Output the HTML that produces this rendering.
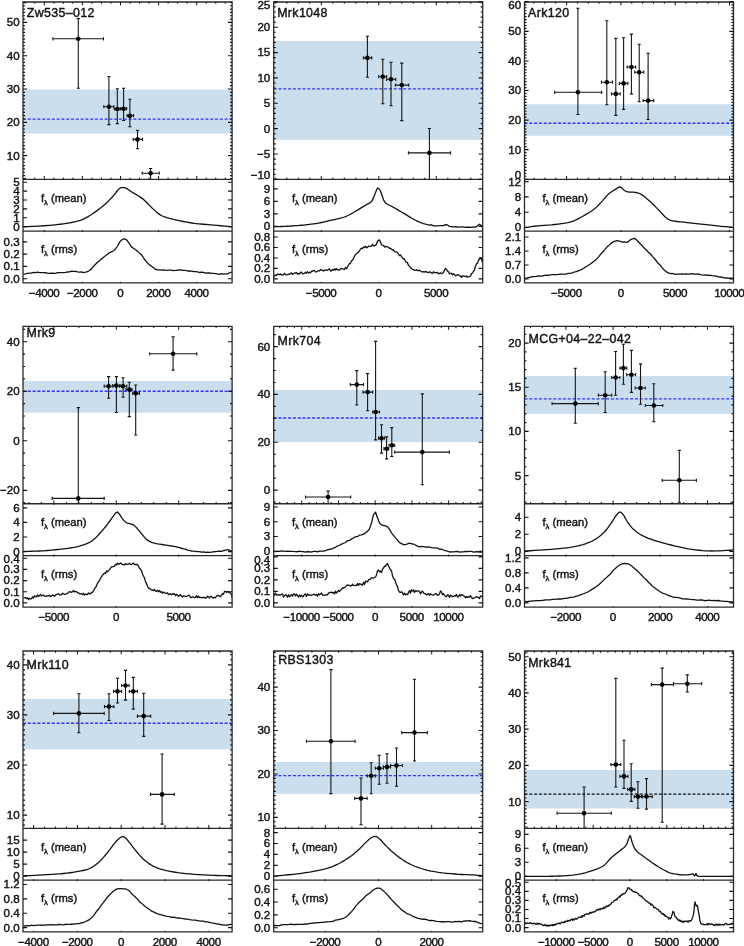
<!DOCTYPE html>
<html><head><meta charset="utf-8"><style>
html,body{margin:0;padding:0;background:#fff;width:744px;height:946px;overflow:hidden}
svg{display:block;filter:blur(0.3px)}
text{font-family:"Liberation Sans", sans-serif;stroke:#111;stroke-width:0.4px}
</style></head><body>
<svg width="744" height="946" viewBox="0 0 744 946" font-family='"Liberation Sans", sans-serif' fill="#111">
<rect width="744" height="946" fill="#fff"/>
<clipPath id="c00m"><rect x="23" y="2" width="209.1" height="177.35"/></clipPath>
<clipPath id="c00n"><rect x="23" y="179.35" width="209.1" height="51.8"/></clipPath>
<clipPath id="c00r"><rect x="23" y="231.15" width="209.1" height="51.65"/></clipPath>
<rect x="23" y="89.6" width="209.1" height="44" fill="#cbdeee"/>
<line x1="23" x2="232.1" y1="119.1" y2="119.1" stroke="#3030ff" stroke-width="1.4" stroke-dasharray="3 1.8"/>
<g clip-path="url(#c00m)" stroke="#151515" stroke-width="1.1" fill="#000">
<path d="M52.9 38.8H103.5M78.3 18.6V88.2M52.9 37.2v3.2M103.5 37.2v3.2M76.7 18.6h3.2M76.7 88.2h3.2M103.8 106.7H113.9M108.9 76.5V124.6M103.8 105.1v3.2M113.9 105.1v3.2M107.3 76.5h3.2M107.3 124.6h3.2M114.3 109H120M117.3 88.7V123.6M114.3 107.4v3.2M120 107.4v3.2M115.7 88.7h3.2M115.7 123.6h3.2M120.9 108.7H126.7M123.6 88.3V120.5M120.9 107.1v3.2M126.7 107.1v3.2M122 88.3h3.2M122 120.5h3.2M127.2 115.7H133.5M129.9 99.3V126.8M127.2 114.1v3.2M133.5 114.1v3.2M128.3 99.3h3.2M128.3 126.8h3.2M133.2 139.4H142.5M137.5 130.4V148.7M133.2 137.8v3.2M142.5 137.8v3.2M135.9 130.4h3.2M135.9 148.7h3.2M142.2 173.2H159.2M150.6 168.5V185M142.2 171.6v3.2M159.2 171.6v3.2M149 168.5h3.2M149 185h3.2" fill="none"/>
<circle cx="78.3" cy="38.8" r="2.3" stroke="none"/>
<circle cx="108.9" cy="106.7" r="2.3" stroke="none"/>
<circle cx="117.3" cy="109" r="2.3" stroke="none"/>
<circle cx="123.6" cy="108.7" r="2.3" stroke="none"/>
<circle cx="129.9" cy="115.7" r="2.3" stroke="none"/>
<circle cx="137.5" cy="139.4" r="2.3" stroke="none"/>
<circle cx="150.6" cy="173.2" r="2.3" stroke="none"/>
</g>
<path clip-path="url(#c00n)" d="M23.5 226.8 L27.1 226.62 L32.25 226.37 L38.15 226.08 L44 225.75 L49 225.4 L53.06 225.04 L56.72 224.66 L60.1 224.25 L63.32 223.8 L66.5 223.3 L69.64 222.78 L72.66 222.25 L75.55 221.66 L78.33 220.96 L81 220.1 L83.51 219.06 L85.85 217.88 L88.1 216.58 L90.33 215.18 L92.6 213.7 L94.97 212.11 L97.38 210.39 L99.77 208.59 L102.07 206.78 L104.2 205 L106.17 203.24 L108.03 201.45 L109.77 199.67 L111.39 197.94 L112.9 196.3 L114.29 194.67 L115.57 193.04 L116.73 191.5 L117.77 190.15 L118.7 189.1 L119.44 188.4 L120 187.99 L120.47 187.78 L120.97 187.67 L121.6 187.6 L122.36 187.53 L123.18 187.54 L124.07 187.63 L125.01 187.84 L126 188.2 L127.05 188.75 L128.15 189.47 L129.31 190.29 L130.53 191.16 L131.8 192 L133.17 192.83 L134.64 193.68 L136.15 194.55 L137.62 195.43 L139 196.3 L140.22 197.1 L141.32 197.85 L142.4 198.63 L143.56 199.54 L144.9 200.7 L146.46 202.2 L148.18 203.97 L149.99 205.86 L151.82 207.73 L153.6 209.4 L155.25 210.89 L156.8 212.31 L158.4 213.64 L160.19 214.87 L162.3 216 L164.78 216.99 L167.54 217.86 L170.51 218.64 L173.62 219.38 L176.8 220.1 L180 220.82 L183.27 221.5 L186.68 222.14 L190.3 222.74 L194.2 223.3 L198.61 223.8 L203.48 224.25 L208.46 224.66 L213.22 225.04 L217.4 225.4 L221.1 225.75 L224.56 226.08 L227.62 226.37 L230.15 226.62 L232 226.8" stroke="#111" stroke-width="1.3" fill="none" stroke-linejoin="round"/>
<path clip-path="url(#c00r)" d="M23.5 274.07 L25.5 273.83 L27.5 273.43 L29.5 273.13 L31.5 273.1 L33.5 272.48 L35.5 272.66 L37.5 272.22 L39.5 272.67 L41.5 272.69 L43.5 272.67 L45.5 272.74 L47.5 273.24 L49.5 273.44 L51.5 273.03 L53.5 273.27 L55.5 273.35 L57.5 272.65 L59.5 272.71 L61.5 272.66 L63.5 272.56 L65.5 272.39 L67.5 272.01 L69.5 271.8 L71.5 271.19 L73.5 271.35 L75.5 271.45 L77.5 271.84 L79.5 272.11 L81.5 271.93 L83.5 272.63 L85.5 272.22 L87.5 271.69 L89.5 270.49 L91.5 268.87 L93.5 266.44 L95.5 264.27 L97.5 262.25 L99.5 260.66 L101.5 258.92 L103.5 257.24 L105.5 255.81 L107.5 254.17 L109.5 252.62 L111.5 251.98 L113.5 250.71 L115.5 249.01 L117.5 246 L119.5 242.34 L121.5 239.97 L123.5 238.98 L125.5 239.06 L127.5 240.82 L129.5 243.82 L131.5 246.91 L133.5 248.22 L135.5 249.79 L137.5 251.09 L139.5 253.17 L141.5 254.66 L143.5 257.78 L145.5 260.66 L147.5 262.94 L149.5 264.88 L151.5 266.32 L153.5 267.81 L155.5 269.4 L157.5 269.89 L159.5 269.85 L161.5 270.1 L163.5 269.94 L165.5 270.19 L167.5 270.31 L169.5 270.12 L171.5 270.08 L173.5 270.54 L175.5 270.4 L177.5 270.17 L179.5 270 L181.5 270.05 L183.5 270.42 L185.5 270.28 L187.5 270.99 L189.5 270.83 L191.5 271.07 L193.5 271.52 L195.5 271.57 L197.5 271.81 L199.5 272.51 L201.5 272.26 L203.5 272.47 L205.5 273.16 L207.5 272.85 L209.5 273.01 L211.5 273.35 L213.5 273.41 L215.5 273.6 L217.5 273.98 L219.5 274.26 L221.5 273.73 L223.5 274.05 L225.5 273.88 L227.5 273.82 L229.5 272.75 L231.5 272.15 L232 271.97" stroke="#111" stroke-width="1.3" fill="none" stroke-linejoin="round"/>
<path d="M23 2H232.1V282.8H23ZM23 179.35H232.1M23 231.15H232.1" stroke="#2a2a2a" stroke-width="1.3" fill="none"/>
<path d="M44.3 179.35v-3.4M44.3 2v3.4M82.4 179.35v-3.4M82.4 2v3.4M120.5 179.35v-3.4M120.5 2v3.4M158.6 179.35v-3.4M158.6 2v3.4M196.7 179.35v-3.4M196.7 2v3.4M25.25 179.35v-1.75M25.25 2v1.75M34.78 179.35v-1.75M34.78 2v1.75M53.83 179.35v-1.75M53.83 2v1.75M63.35 179.35v-1.75M63.35 2v1.75M72.88 179.35v-1.75M72.88 2v1.75M91.93 179.35v-1.75M91.93 2v1.75M101.45 179.35v-1.75M101.45 2v1.75M110.97 179.35v-1.75M110.97 2v1.75M130.03 179.35v-1.75M130.03 2v1.75M139.55 179.35v-1.75M139.55 2v1.75M149.07 179.35v-1.75M149.07 2v1.75M168.12 179.35v-1.75M168.12 2v1.75M177.65 179.35v-1.75M177.65 2v1.75M187.18 179.35v-1.75M187.18 2v1.75M206.22 179.35v-1.75M206.22 2v1.75M215.75 179.35v-1.75M215.75 2v1.75M225.27 179.35v-1.75M225.27 2v1.75" stroke="#111" stroke-width="1" fill="none"/>
<path d="M44.3 231.15v-1M44.3 179.35v1M82.4 231.15v-1M82.4 179.35v1M120.5 231.15v-1M120.5 179.35v1M158.6 231.15v-1M158.6 179.35v1M196.7 231.15v-1M196.7 179.35v1" stroke="#111" stroke-width="1" fill="none"/>
<path d="M44.3 282.8v-1M44.3 231.15v1M82.4 282.8v-1M82.4 231.15v1M120.5 282.8v-1M120.5 231.15v1M158.6 282.8v-1M158.6 231.15v1M196.7 282.8v-1M196.7 231.15v1" stroke="#111" stroke-width="1" fill="none"/>
<path d="M23 155.6h4.1M232.1 155.6h-4.1M23 122.3h4.1M232.1 122.3h-4.1M23 89h4.1M232.1 89h-4.1M23 55.7h4.1M232.1 55.7h-4.1M23 22.4h4.1M232.1 22.4h-4.1M23 178.91h2.05M232.1 178.91h-2.05M23 175.58h2.05M232.1 175.58h-2.05M23 172.25h2.05M232.1 172.25h-2.05M23 168.92h2.05M232.1 168.92h-2.05M23 165.59h2.05M232.1 165.59h-2.05M23 162.26h2.05M232.1 162.26h-2.05M23 158.93h2.05M232.1 158.93h-2.05M23 152.27h2.05M232.1 152.27h-2.05M23 148.94h2.05M232.1 148.94h-2.05M23 145.61h2.05M232.1 145.61h-2.05M23 142.28h2.05M232.1 142.28h-2.05M23 138.95h2.05M232.1 138.95h-2.05M23 135.62h2.05M232.1 135.62h-2.05M23 132.29h2.05M232.1 132.29h-2.05M23 128.96h2.05M232.1 128.96h-2.05M23 125.63h2.05M232.1 125.63h-2.05M23 118.97h2.05M232.1 118.97h-2.05M23 115.64h2.05M232.1 115.64h-2.05M23 112.31h2.05M232.1 112.31h-2.05M23 108.98h2.05M232.1 108.98h-2.05M23 105.65h2.05M232.1 105.65h-2.05M23 102.32h2.05M232.1 102.32h-2.05M23 98.99h2.05M232.1 98.99h-2.05M23 95.66h2.05M232.1 95.66h-2.05M23 92.33h2.05M232.1 92.33h-2.05M23 85.67h2.05M232.1 85.67h-2.05M23 82.34h2.05M232.1 82.34h-2.05M23 79.01h2.05M232.1 79.01h-2.05M23 75.68h2.05M232.1 75.68h-2.05M23 72.35h2.05M232.1 72.35h-2.05M23 69.02h2.05M232.1 69.02h-2.05M23 65.69h2.05M232.1 65.69h-2.05M23 62.36h2.05M232.1 62.36h-2.05M23 59.03h2.05M232.1 59.03h-2.05M23 52.37h2.05M232.1 52.37h-2.05M23 49.04h2.05M232.1 49.04h-2.05M23 45.71h2.05M232.1 45.71h-2.05M23 42.38h2.05M232.1 42.38h-2.05M23 39.05h2.05M232.1 39.05h-2.05M23 35.72h2.05M232.1 35.72h-2.05M23 32.39h2.05M232.1 32.39h-2.05M23 29.06h2.05M232.1 29.06h-2.05M23 25.73h2.05M232.1 25.73h-2.05M23 19.07h2.05M232.1 19.07h-2.05M23 15.74h2.05M232.1 15.74h-2.05M23 12.41h2.05M232.1 12.41h-2.05M23 9.08h2.05M232.1 9.08h-2.05M23 5.75h2.05M232.1 5.75h-2.05M23 2.42h2.05M232.1 2.42h-2.05" stroke="#111" stroke-width="1.15" fill="none"/>
<text transform="translate(19.6 159.5) scale(1 1.0)" text-anchor="end" font-size="11.6">10</text>
<text transform="translate(19.6 126.2) scale(1 1.0)" text-anchor="end" font-size="11.6">20</text>
<text transform="translate(19.6 92.9) scale(1 1.0)" text-anchor="end" font-size="11.6">30</text>
<text transform="translate(19.6 59.6) scale(1 1.0)" text-anchor="end" font-size="11.6">40</text>
<text transform="translate(19.6 26.3) scale(1 1.0)" text-anchor="end" font-size="11.6">50</text>
<path d="M23 226.6h4.1M232.1 226.6h-4.1M23 217.72h4.1M232.1 217.72h-4.1M23 208.84h4.1M232.1 208.84h-4.1M23 199.96h4.1M232.1 199.96h-4.1M23 191.08h4.1M232.1 191.08h-4.1M23 182.2h4.1M232.1 182.2h-4.1" stroke="#111" stroke-width="1.15" fill="none"/>
<text transform="translate(19.6 230.5) scale(1 1.0)" text-anchor="end" font-size="11.6">0</text>
<text transform="translate(19.6 221.62) scale(1 1.0)" text-anchor="end" font-size="11.6">1</text>
<text transform="translate(19.6 212.74) scale(1 1.0)" text-anchor="end" font-size="11.6">2</text>
<text transform="translate(19.6 203.86) scale(1 1.0)" text-anchor="end" font-size="11.6">3</text>
<text transform="translate(19.6 194.98) scale(1 1.0)" text-anchor="end" font-size="11.6">4</text>
<text transform="translate(19.6 186.1) scale(1 1.0)" text-anchor="end" font-size="11.6">5</text>
<path d="M23 278.7h4.1M232.1 278.7h-4.1M23 266.4h4.1M232.1 266.4h-4.1M23 254.1h4.1M232.1 254.1h-4.1M23 241.8h4.1M232.1 241.8h-4.1" stroke="#111" stroke-width="1.15" fill="none"/>
<text transform="translate(19.6 282.6) scale(1 1.0)" text-anchor="end" font-size="11.6">0.0</text>
<text transform="translate(19.6 270.3) scale(1 1.0)" text-anchor="end" font-size="11.6">0.1</text>
<text transform="translate(19.6 258) scale(1 1.0)" text-anchor="end" font-size="11.6">0.2</text>
<text transform="translate(19.6 245.7) scale(1 1.0)" text-anchor="end" font-size="11.6">0.3</text>
<text transform="translate(44.1 296.8) scale(1 1.0)" text-anchor="middle" font-size="11.6" letter-spacing="-0.4">−4000</text>
<text transform="translate(82.2 296.8) scale(1 1.0)" text-anchor="middle" font-size="11.6" letter-spacing="-0.4">−2000</text>
<text transform="translate(120.3 296.8) scale(1 1.0)" text-anchor="middle" font-size="11.6" letter-spacing="-0.4">0</text>
<text transform="translate(158.4 296.8) scale(1 1.0)" text-anchor="middle" font-size="11.6" letter-spacing="-0.4">2000</text>
<text transform="translate(196.5 296.8) scale(1 1.0)" text-anchor="middle" font-size="11.6" letter-spacing="-0.4">4000</text>
<text x="26.8" y="16.7" font-size="12.4" letter-spacing="0.35">Zw535–012</text>
<text x="41" y="201.5" font-size="11.2">f<tspan font-size="7.6" dy="3.0">λ</tspan><tspan dy="-3.0"> (mean)</tspan></text>
<text x="41" y="252.9" font-size="11.2">f<tspan font-size="7.6" dy="3.0">λ</tspan><tspan dy="-3.0"> (rms)</tspan></text>
<clipPath id="c10m"><rect x="273.7" y="2" width="209" height="177.35"/></clipPath>
<clipPath id="c10n"><rect x="273.7" y="179.35" width="209" height="51.8"/></clipPath>
<clipPath id="c10r"><rect x="273.7" y="231.15" width="209" height="51.65"/></clipPath>
<rect x="273.7" y="40.9" width="209" height="98.9" fill="#cbdeee"/>
<line x1="273.7" x2="482.7" y1="88.9" y2="88.9" stroke="#3030ff" stroke-width="1.4" stroke-dasharray="3 1.8"/>
<g clip-path="url(#c10m)" stroke="#151515" stroke-width="1.1" fill="#000">
<path d="M363.4 57.9H371.8M367.4 36.2V77.2M363.4 56.3v3.2M371.8 56.3v3.2M365.8 36.2h3.2M365.8 77.2h3.2M378.8 76.7H386.6M382.8 59.2V103.7M378.8 75.1v3.2M386.6 75.1v3.2M381.2 59.2h3.2M381.2 103.7h3.2M386.6 79.3H395.7M391 62.2V105.8M386.6 77.7v3.2M395.7 77.7v3.2M389.4 62.2h3.2M389.4 105.8h3.2M395.4 85.1H408.8M401.8 63.1V120.6M395.4 83.5v3.2M408.8 83.5v3.2M400.2 63.1h3.2M400.2 120.6h3.2M408.4 152.9H450.6M429.4 128.5V185M408.4 151.3v3.2M450.6 151.3v3.2M427.8 128.5h3.2M427.8 185h3.2" fill="none"/>
<circle cx="367.4" cy="57.9" r="2.3" stroke="none"/>
<circle cx="382.8" cy="76.7" r="2.3" stroke="none"/>
<circle cx="391" cy="79.3" r="2.3" stroke="none"/>
<circle cx="401.8" cy="85.1" r="2.3" stroke="none"/>
<circle cx="429.4" cy="152.9" r="2.3" stroke="none"/>
</g>
<path clip-path="url(#c10n)" d="M273.5 226.8 L275.5 226.72 L277.5 226.65 L279.5 226.57 L281.5 226.49 L283.5 226.42 L285.5 226.33 L287.5 226.23 L289.5 226.13 L291.5 226 L293.5 225.88 L295.5 225.72 L297.5 225.57 L299.5 225.4 L301.5 225.23 L303.5 225.04 L305.5 224.85 L307.5 224.64 L309.5 224.42 L311.5 224.17 L313.5 223.91 L315.5 223.61 L317.5 223.28 L319.5 222.91 L321.5 222.5 L323.5 222.06 L325.5 221.6 L327.5 221.14 L329.5 220.69 L331.5 220.24 L333.5 219.8 L335.5 219.35 L337.5 218.88 L339.5 218.39 L341.5 217.85 L343.5 217.25 L345.5 216.6 L347.5 215.76 L349.5 214.79 L351.5 213.69 L353.5 212.5 L355.5 211.26 L357.5 210.07 L359.5 208.89 L361.5 207.67 L363.5 206.42 L365.5 205.18 L367.5 204.12 L369.5 203.19 L371.5 201.6 L373.5 197.65 L375.5 192.45 L377.5 188.01 L379.5 189.03 L381.5 193.62 L383.5 199.82 L385.5 202.93 L387.5 204.32 L389.5 205.25 L391.5 206.24 L393.5 207.37 L395.5 208.53 L397.5 209.68 L399.5 210.83 L401.5 211.98 L403.5 213.14 L405.5 214.35 L407.5 215.6 L409.5 216.85 L411.5 218.06 L413.5 219.2 L415.5 220.24 L417.5 221.19 L419.5 222.07 L421.5 222.86 L423.5 223.56 L425.5 224.15 L427.5 224.63 L429.5 225 L431.5 224.97 L433.5 225.78 L435.5 225.95 L437.5 225.83 L439.5 225.62 L441.5 225.6 L443.5 225.69 L445.5 224.67 L447.5 224.96 L449.5 226.43 L451.5 226.57 L453.5 226.79 L455.5 226.73 L457.5 226.99 L459.5 227.12 L461.5 226.97 L463.5 226.82 L465.5 227.31 L467.5 227.18 L469.5 227.24 L471.5 227.29 L473.5 226.94 L475.5 227.18 L477.5 225.69 L479.5 224.21 L481.5 225.72 L482.6 227.78" stroke="#111" stroke-width="1.3" fill="none" stroke-linejoin="round"/>
<path clip-path="url(#c10r)" d="M273.5 274.98 L274.5 276.1 L275.5 275.26 L276.5 275.31 L277.5 274.13 L278.5 274.24 L279.5 274.79 L280.5 273.84 L281.5 275.04 L282.5 274.89 L283.5 274.83 L284.5 273.29 L285.5 274.34 L286.5 274.79 L287.5 274.6 L288.5 273.98 L289.5 274.45 L290.5 273.51 L291.5 272.8 L292.5 274.45 L293.5 273.81 L294.5 272.94 L295.5 272.98 L296.5 272.55 L297.5 274.11 L298.5 273.69 L299.5 274.02 L300.5 272.34 L301.5 272.17 L302.5 273.86 L303.5 273.6 L304.5 273.47 L305.5 272.15 L306.5 273.18 L307.5 271.67 L308.5 272.95 L309.5 272.33 L310.5 272.9 L311.5 271.04 L312.5 271.32 L313.5 270.51 L314.5 270.54 L315.5 271.83 L316.5 271.94 L317.5 271.21 L318.5 270.8 L319.5 270.84 L320.5 269.59 L321.5 270.13 L322.5 270.15 L323.5 271 L324.5 270.17 L325.5 269.82 L326.5 270.03 L327.5 270.42 L328.5 269.36 L329.5 268.89 L330.5 270.97 L331.5 270.81 L332.5 269.41 L333.5 270.19 L334.5 268.77 L335.5 269.98 L336.5 268.75 L337.5 269.92 L338.5 269.83 L339.5 270.23 L340.5 268.92 L341.5 268.43 L342.5 268.75 L343.5 269.24 L344.5 269.39 L345.5 267.46 L346.5 268.69 L347.5 266.72 L348.5 265.06 L349.5 263.63 L350.5 263.38 L351.5 260.6 L352.5 260.47 L353.5 258.3 L354.5 256.19 L355.5 254.74 L356.5 253.63 L357.5 252.91 L358.5 251.97 L359.5 251.05 L360.5 248.93 L361.5 248.24 L362.5 248.55 L363.5 246.98 L364.5 247.63 L365.5 246.21 L366.5 247.52 L367.5 247.49 L368.5 246.15 L369.5 246.04 L370.5 246.32 L371.5 246.07 L372.5 244.29 L373.5 245.84 L374.5 245.49 L375.5 245.28 L376.5 244.23 L377.5 241.26 L378.5 240.29 L379.5 239.97 L380.5 242.07 L381.5 244.75 L382.5 245.11 L383.5 245.29 L384.5 247.06 L385.5 246.39 L386.5 246.8 L387.5 246.7 L388.5 247.3 L389.5 248.37 L390.5 248.11 L391.5 249.27 L392.5 249.98 L393.5 249.89 L394.5 251.58 L395.5 251.95 L396.5 251.85 L397.5 253.05 L398.5 254.01 L399.5 255.67 L400.5 254.95 L401.5 256.65 L402.5 257.95 L403.5 259 L404.5 258.88 L405.5 261.84 L406.5 262.14 L407.5 262.69 L408.5 265.5 L409.5 266.19 L410.5 267.82 L411.5 268.14 L412.5 269.34 L413.5 269.64 L414.5 270.16 L415.5 270.46 L416.5 269.72 L417.5 270.7 L418.5 270.5 L419.5 270.16 L420.5 270.97 L421.5 271.79 L422.5 271.97 L423.5 271.59 L424.5 272.19 L425.5 271.32 L426.5 272.11 L427.5 272.26 L428.5 272.64 L429.5 271.78 L430.5 272.13 L431.5 272.96 L432.5 273.44 L433.5 271.76 L434.5 272.54 L435.5 272.64 L436.5 272.73 L437.5 272.45 L438.5 273.82 L439.5 273.26 L440.5 272.83 L441.5 273.62 L442.5 273.3 L443.5 272.28 L444.5 270.2 L445.5 268.42 L446.5 269.22 L447.5 271.2 L448.5 271.72 L449.5 273.98 L450.5 273.28 L451.5 273.34 L452.5 274.96 L453.5 273.66 L454.5 274.65 L455.5 275.8 L456.5 275.32 L457.5 274.77 L458.5 274.84 L459.5 275.73 L460.5 275.8 L461.5 277.39 L462.5 275.94 L463.5 276.18 L464.5 276.09 L465.5 276.71 L466.5 276.04 L467.5 277 L468.5 276.96 L469.5 276.48 L470.5 276.04 L471.5 273.57 L472.5 272.96 L473.5 271.26 L474.5 269.79 L475.5 266.28 L476.5 263.81 L477.5 263.2 L478.5 260.11 L479.5 259.28 L480.5 257.53 L481.5 259.33 L482.5 262.62 L482.6 262.7" stroke="#111" stroke-width="1.3" fill="none" stroke-linejoin="round"/>
<path d="M273.7 2H482.7V282.8H273.7ZM273.7 179.35H482.7M273.7 231.15H482.7" stroke="#2a2a2a" stroke-width="1.3" fill="none"/>
<path d="M321.3 179.35v-3.4M321.3 2v3.4M378.8 179.35v-3.4M378.8 2v3.4M436.3 179.35v-3.4M436.3 2v3.4M275.3 179.35v-1.75M275.3 2v1.75M286.8 179.35v-1.75M286.8 2v1.75M298.3 179.35v-1.75M298.3 2v1.75M309.8 179.35v-1.75M309.8 2v1.75M332.8 179.35v-1.75M332.8 2v1.75M344.3 179.35v-1.75M344.3 2v1.75M355.8 179.35v-1.75M355.8 2v1.75M367.3 179.35v-1.75M367.3 2v1.75M390.3 179.35v-1.75M390.3 2v1.75M401.8 179.35v-1.75M401.8 2v1.75M413.3 179.35v-1.75M413.3 2v1.75M424.8 179.35v-1.75M424.8 2v1.75M447.8 179.35v-1.75M447.8 2v1.75M459.3 179.35v-1.75M459.3 2v1.75M470.8 179.35v-1.75M470.8 2v1.75M482.3 179.35v-1.75M482.3 2v1.75" stroke="#111" stroke-width="1" fill="none"/>
<path d="M321.3 231.15v-1M321.3 179.35v1M378.8 231.15v-1M378.8 179.35v1M436.3 231.15v-1M436.3 179.35v1" stroke="#111" stroke-width="1" fill="none"/>
<path d="M321.3 282.8v-1M321.3 231.15v1M378.8 282.8v-1M378.8 231.15v1M436.3 282.8v-1M436.3 231.15v1" stroke="#111" stroke-width="1" fill="none"/>
<path d="M273.7 179.36h4.1M482.7 179.36h-4.1M273.7 154h4.1M482.7 154h-4.1M273.7 128.64h4.1M482.7 128.64h-4.1M273.7 103.28h4.1M482.7 103.28h-4.1M273.7 77.92h4.1M482.7 77.92h-4.1M273.7 52.56h4.1M482.7 52.56h-4.1M273.7 27.2h4.1M482.7 27.2h-4.1M273.7 1.84h4.1M482.7 1.84h-4.1M273.7 174.29h2.05M482.7 174.29h-2.05M273.7 169.22h2.05M482.7 169.22h-2.05M273.7 164.14h2.05M482.7 164.14h-2.05M273.7 159.07h2.05M482.7 159.07h-2.05M273.7 148.93h2.05M482.7 148.93h-2.05M273.7 143.86h2.05M482.7 143.86h-2.05M273.7 138.78h2.05M482.7 138.78h-2.05M273.7 133.71h2.05M482.7 133.71h-2.05M273.7 123.57h2.05M482.7 123.57h-2.05M273.7 118.5h2.05M482.7 118.5h-2.05M273.7 113.42h2.05M482.7 113.42h-2.05M273.7 108.35h2.05M482.7 108.35h-2.05M273.7 98.21h2.05M482.7 98.21h-2.05M273.7 93.14h2.05M482.7 93.14h-2.05M273.7 88.06h2.05M482.7 88.06h-2.05M273.7 82.99h2.05M482.7 82.99h-2.05M273.7 72.85h2.05M482.7 72.85h-2.05M273.7 67.78h2.05M482.7 67.78h-2.05M273.7 62.7h2.05M482.7 62.7h-2.05M273.7 57.63h2.05M482.7 57.63h-2.05M273.7 47.49h2.05M482.7 47.49h-2.05M273.7 42.42h2.05M482.7 42.42h-2.05M273.7 37.34h2.05M482.7 37.34h-2.05M273.7 32.27h2.05M482.7 32.27h-2.05M273.7 22.13h2.05M482.7 22.13h-2.05M273.7 17.06h2.05M482.7 17.06h-2.05M273.7 11.98h2.05M482.7 11.98h-2.05M273.7 6.91h2.05M482.7 6.91h-2.05" stroke="#111" stroke-width="1.15" fill="none"/>
<text transform="translate(270.3 179.25) scale(1 1.0)" text-anchor="end" font-size="11.6">−10</text>
<text transform="translate(270.3 157.9) scale(1 1.0)" text-anchor="end" font-size="11.6">−5</text>
<text transform="translate(270.3 132.54) scale(1 1.0)" text-anchor="end" font-size="11.6">0</text>
<text transform="translate(270.3 107.18) scale(1 1.0)" text-anchor="end" font-size="11.6">5</text>
<text transform="translate(270.3 81.82) scale(1 1.0)" text-anchor="end" font-size="11.6">10</text>
<text transform="translate(270.3 56.46) scale(1 1.0)" text-anchor="end" font-size="11.6">15</text>
<text transform="translate(270.3 31.1) scale(1 1.0)" text-anchor="end" font-size="11.6">20</text>
<text transform="translate(270.3 9.1) scale(1 1.0)" text-anchor="end" font-size="11.6">25</text>
<path d="M273.7 226.4h4.1M482.7 226.4h-4.1M273.7 213.9h4.1M482.7 213.9h-4.1M273.7 201.4h4.1M482.7 201.4h-4.1M273.7 188.9h4.1M482.7 188.9h-4.1" stroke="#111" stroke-width="1.15" fill="none"/>
<text transform="translate(270.3 230.3) scale(1 1.0)" text-anchor="end" font-size="11.6">0</text>
<text transform="translate(270.3 217.8) scale(1 1.0)" text-anchor="end" font-size="11.6">3</text>
<text transform="translate(270.3 205.3) scale(1 1.0)" text-anchor="end" font-size="11.6">6</text>
<text transform="translate(270.3 192.8) scale(1 1.0)" text-anchor="end" font-size="11.6">9</text>
<path d="M273.7 278.9h4.1M482.7 278.9h-4.1M273.7 268.43h4.1M482.7 268.43h-4.1M273.7 257.95h4.1M482.7 257.95h-4.1M273.7 247.47h4.1M482.7 247.47h-4.1M273.7 237h4.1M482.7 237h-4.1" stroke="#111" stroke-width="1.15" fill="none"/>
<text transform="translate(270.3 282.8) scale(1 1.0)" text-anchor="end" font-size="11.6">0.0</text>
<text transform="translate(270.3 272.33) scale(1 1.0)" text-anchor="end" font-size="11.6">0.2</text>
<text transform="translate(270.3 261.85) scale(1 1.0)" text-anchor="end" font-size="11.6">0.4</text>
<text transform="translate(270.3 251.38) scale(1 1.0)" text-anchor="end" font-size="11.6">0.6</text>
<text transform="translate(270.3 240.9) scale(1 1.0)" text-anchor="end" font-size="11.6">0.8</text>
<text transform="translate(321.1 296.8) scale(1 1.0)" text-anchor="middle" font-size="11.6" letter-spacing="-0.4">−5000</text>
<text transform="translate(378.6 296.8) scale(1 1.0)" text-anchor="middle" font-size="11.6" letter-spacing="-0.4">0</text>
<text transform="translate(436.1 296.8) scale(1 1.0)" text-anchor="middle" font-size="11.6" letter-spacing="-0.4">5000</text>
<text x="277.2" y="17.3" font-size="12.4" letter-spacing="0.35">Mrk1048</text>
<text x="292" y="201.5" font-size="11.2">f<tspan font-size="7.6" dy="3.0">λ</tspan><tspan dy="-3.0"> (mean)</tspan></text>
<text x="292" y="252.9" font-size="11.2">f<tspan font-size="7.6" dy="3.0">λ</tspan><tspan dy="-3.0"> (rms)</tspan></text>
<clipPath id="c20m"><rect x="524.5" y="2" width="209" height="177.35"/></clipPath>
<clipPath id="c20n"><rect x="524.5" y="179.35" width="209" height="51.8"/></clipPath>
<clipPath id="c20r"><rect x="524.5" y="231.15" width="209" height="51.65"/></clipPath>
<rect x="524.5" y="104.2" width="209" height="31.6" fill="#cbdeee"/>
<line x1="524.5" x2="733.5" y1="123.3" y2="123.3" stroke="#3030ff" stroke-width="1.4" stroke-dasharray="3 1.8"/>
<g clip-path="url(#c20m)" stroke="#151515" stroke-width="1.1" fill="#000">
<path d="M554.7 92.3H601.7M577.9 8.2V114.5M554.7 90.7v3.2M601.7 90.7v3.2M576.3 8.2h3.2M576.3 114.5h3.2M601.4 82.2H612.4M606.8 20.7V104.7M601.4 80.6v3.2M612.4 80.6v3.2M605.2 20.7h3.2M605.2 104.7h3.2M611.5 93.9H620.2M615.8 38.4V115.4M611.5 92.3v3.2M620.2 92.3v3.2M614.2 38.4h3.2M614.2 115.4h3.2M619.3 83.4H627.9M623.6 37.7V109.4M619.3 81.8v3.2M627.9 81.8v3.2M622 37.7h3.2M622 109.4h3.2M627.1 67H635.7M631.4 34.1V93.9M627.1 65.4v3.2M635.7 65.4v3.2M629.8 34.1h3.2M629.8 93.9h3.2M634.8 72.2H643.8M639.2 44.2V101.7M634.8 70.6v3.2M643.8 70.6v3.2M637.6 44.2h3.2M637.6 101.7h3.2M643.1 100.6H653.8M648.1 53.3V119.5M643.1 99v3.2M653.8 99v3.2M646.5 53.3h3.2M646.5 119.5h3.2" fill="none"/>
<circle cx="577.9" cy="92.3" r="2.3" stroke="none"/>
<circle cx="606.8" cy="82.2" r="2.3" stroke="none"/>
<circle cx="615.8" cy="93.9" r="2.3" stroke="none"/>
<circle cx="623.6" cy="83.4" r="2.3" stroke="none"/>
<circle cx="631.4" cy="67" r="2.3" stroke="none"/>
<circle cx="639.2" cy="72.2" r="2.3" stroke="none"/>
<circle cx="648.1" cy="100.6" r="2.3" stroke="none"/>
</g>
<path clip-path="url(#c20n)" d="M524.4 227.7 L526.1 227.45 L528.45 227.09 L531.26 226.68 L534.31 226.26 L537.4 225.9 L540.62 225.61 L544.11 225.37 L547.73 225.13 L551.34 224.85 L554.8 224.5 L558.18 224.09 L561.58 223.65 L564.88 223.15 L567.99 222.57 L570.8 221.9 L573.19 221.13 L575.23 220.28 L577.1 219.34 L578.96 218.31 L581 217.2 L583.28 215.98 L585.68 214.66 L588.1 213.26 L590.44 211.8 L592.6 210.3 L594.55 208.74 L596.36 207.11 L598.06 205.44 L599.7 203.75 L601.3 202.1 L602.85 200.42 L604.33 198.7 L605.75 197 L607.17 195.41 L608.6 194 L610.09 192.77 L611.62 191.68 L613.13 190.7 L614.54 189.85 L615.8 189.1 L616.86 188.41 L617.77 187.79 L618.58 187.3 L619.37 187.02 L620.2 187 L621.06 187.37 L621.92 188.09 L622.78 188.98 L623.64 189.84 L624.5 190.5 L625.33 190.94 L626.12 191.29 L626.93 191.57 L627.84 191.8 L628.9 192 L630.18 192.13 L631.64 192.18 L633.18 192.21 L634.7 192.29 L636.1 192.5 L637.32 192.78 L638.42 193.09 L639.5 193.5 L640.66 194.08 L642 194.9 L643.56 196.01 L645.28 197.36 L647.09 198.88 L648.92 200.49 L650.7 202.1 L652.46 203.77 L654.25 205.54 L656.03 207.35 L657.76 209.13 L659.4 210.8 L660.93 212.42 L662.38 214.03 L663.78 215.56 L665.18 216.94 L666.6 218.1 L667.85 218.97 L668.89 219.61 L670.04 220.09 L671.61 220.53 L673.9 221 L677.08 221.49 L680.94 221.95 L685.25 222.39 L689.75 222.83 L694.2 223.3 L698.78 223.82 L703.64 224.37 L708.53 224.92 L713.2 225.45 L717.4 225.9 L721.26 226.29 L724.94 226.65 L728.25 226.96 L731 227.21 L733 227.4" stroke="#111" stroke-width="1.3" fill="none" stroke-linejoin="round"/>
<path clip-path="url(#c20r)" d="M524.4 278.45 L526.4 278.11 L528.4 277.6 L530.4 277.24 L532.4 276.68 L534.4 276.62 L536.4 276.44 L538.4 275.78 L540.4 276.09 L542.4 275.98 L544.4 275.3 L546.4 275.27 L548.4 275.32 L550.4 274.9 L552.4 274.72 L554.4 274.68 L556.4 274.62 L558.4 274.45 L560.4 274.03 L562.4 274.22 L564.4 274.12 L566.4 273.99 L568.4 273.42 L570.4 273.32 L572.4 272.92 L574.4 271.97 L576.4 271.63 L578.4 270.7 L580.4 270.04 L582.4 269.05 L584.4 267.67 L586.4 266.52 L588.4 265.28 L590.4 264.03 L592.4 262.44 L594.4 260.94 L596.4 259.17 L598.4 257.12 L600.4 254.56 L602.4 252.3 L604.4 250.09 L606.4 247.61 L608.4 245.86 L610.4 243.87 L612.4 242.36 L614.4 241.37 L616.4 240.76 L618.4 240.83 L620.4 241.45 L622.4 242.08 L624.4 241.8 L626.4 242.35 L628.4 241.6 L630.4 239.83 L632.4 238.83 L634.4 238.4 L636.4 239.77 L638.4 241.77 L640.4 243.94 L642.4 245.84 L644.4 248.34 L646.4 250.02 L648.4 252.26 L650.4 254.02 L652.4 256.35 L654.4 258.48 L656.4 261.01 L658.4 263.61 L660.4 265.32 L662.4 268.16 L664.4 270.17 L666.4 271.87 L668.4 272.81 L670.4 273.59 L672.4 273.34 L674.4 274.23 L676.4 274.2 L678.4 274.12 L680.4 274.03 L682.4 274.02 L684.4 274.09 L686.4 274.01 L688.4 274.07 L690.4 273.88 L692.4 273.75 L694.4 274.16 L696.4 274.11 L698.4 274 L700.4 274.52 L702.4 274.82 L704.4 275.05 L706.4 274.96 L708.4 275.27 L710.4 275.29 L712.4 275.72 L714.4 275.96 L716.4 276.16 L718.4 276.95 L720.4 277 L722.4 277.47 L724.4 277.92 L726.4 277.99 L728.4 278.1 L730.4 278.26 L732.4 278.05 L733 278.35" stroke="#111" stroke-width="1.3" fill="none" stroke-linejoin="round"/>
<path d="M524.5 2H733.5V282.8H524.5ZM524.5 179.35H733.5M524.5 231.15H733.5" stroke="#2a2a2a" stroke-width="1.3" fill="none"/>
<path d="M566.6 179.35v-3.4M566.6 2v3.4M620.9 179.35v-3.4M620.9 2v3.4M675.2 179.35v-3.4M675.2 2v3.4M729.5 179.35v-3.4M729.5 2v3.4M534.02 179.35v-1.75M534.02 2v1.75M544.88 179.35v-1.75M544.88 2v1.75M555.74 179.35v-1.75M555.74 2v1.75M577.46 179.35v-1.75M577.46 2v1.75M588.32 179.35v-1.75M588.32 2v1.75M599.18 179.35v-1.75M599.18 2v1.75M610.04 179.35v-1.75M610.04 2v1.75M631.76 179.35v-1.75M631.76 2v1.75M642.62 179.35v-1.75M642.62 2v1.75M653.48 179.35v-1.75M653.48 2v1.75M664.34 179.35v-1.75M664.34 2v1.75M686.06 179.35v-1.75M686.06 2v1.75M696.92 179.35v-1.75M696.92 2v1.75M707.78 179.35v-1.75M707.78 2v1.75M718.64 179.35v-1.75M718.64 2v1.75" stroke="#111" stroke-width="1" fill="none"/>
<path d="M566.6 231.15v-1M566.6 179.35v1M620.9 231.15v-1M620.9 179.35v1M675.2 231.15v-1M675.2 179.35v1M729.5 231.15v-1M729.5 179.35v1" stroke="#111" stroke-width="1" fill="none"/>
<path d="M566.6 282.8v-1M566.6 231.15v1M620.9 282.8v-1M620.9 231.15v1M675.2 282.8v-1M675.2 231.15v1M729.5 282.8v-1M729.5 231.15v1" stroke="#111" stroke-width="1" fill="none"/>
<path d="M524.5 179.2h4.1M733.5 179.2h-4.1M524.5 149.64h4.1M733.5 149.64h-4.1M524.5 120.08h4.1M733.5 120.08h-4.1M524.5 90.52h4.1M733.5 90.52h-4.1M524.5 60.96h4.1M733.5 60.96h-4.1M524.5 31.4h4.1M733.5 31.4h-4.1M524.5 1.84h4.1M733.5 1.84h-4.1M524.5 176.24h2.05M733.5 176.24h-2.05M524.5 173.29h2.05M733.5 173.29h-2.05M524.5 170.33h2.05M733.5 170.33h-2.05M524.5 167.38h2.05M733.5 167.38h-2.05M524.5 164.42h2.05M733.5 164.42h-2.05M524.5 161.46h2.05M733.5 161.46h-2.05M524.5 158.51h2.05M733.5 158.51h-2.05M524.5 155.55h2.05M733.5 155.55h-2.05M524.5 152.6h2.05M733.5 152.6h-2.05M524.5 146.68h2.05M733.5 146.68h-2.05M524.5 143.73h2.05M733.5 143.73h-2.05M524.5 140.77h2.05M733.5 140.77h-2.05M524.5 137.82h2.05M733.5 137.82h-2.05M524.5 134.86h2.05M733.5 134.86h-2.05M524.5 131.9h2.05M733.5 131.9h-2.05M524.5 128.95h2.05M733.5 128.95h-2.05M524.5 125.99h2.05M733.5 125.99h-2.05M524.5 123.04h2.05M733.5 123.04h-2.05M524.5 117.12h2.05M733.5 117.12h-2.05M524.5 114.17h2.05M733.5 114.17h-2.05M524.5 111.21h2.05M733.5 111.21h-2.05M524.5 108.26h2.05M733.5 108.26h-2.05M524.5 105.3h2.05M733.5 105.3h-2.05M524.5 102.34h2.05M733.5 102.34h-2.05M524.5 99.39h2.05M733.5 99.39h-2.05M524.5 96.43h2.05M733.5 96.43h-2.05M524.5 93.48h2.05M733.5 93.48h-2.05M524.5 87.56h2.05M733.5 87.56h-2.05M524.5 84.61h2.05M733.5 84.61h-2.05M524.5 81.65h2.05M733.5 81.65h-2.05M524.5 78.7h2.05M733.5 78.7h-2.05M524.5 75.74h2.05M733.5 75.74h-2.05M524.5 72.78h2.05M733.5 72.78h-2.05M524.5 69.83h2.05M733.5 69.83h-2.05M524.5 66.87h2.05M733.5 66.87h-2.05M524.5 63.92h2.05M733.5 63.92h-2.05M524.5 58h2.05M733.5 58h-2.05M524.5 55.05h2.05M733.5 55.05h-2.05M524.5 52.09h2.05M733.5 52.09h-2.05M524.5 49.14h2.05M733.5 49.14h-2.05M524.5 46.18h2.05M733.5 46.18h-2.05M524.5 43.22h2.05M733.5 43.22h-2.05M524.5 40.27h2.05M733.5 40.27h-2.05M524.5 37.31h2.05M733.5 37.31h-2.05M524.5 34.36h2.05M733.5 34.36h-2.05M524.5 28.44h2.05M733.5 28.44h-2.05M524.5 25.49h2.05M733.5 25.49h-2.05M524.5 22.53h2.05M733.5 22.53h-2.05M524.5 19.58h2.05M733.5 19.58h-2.05M524.5 16.62h2.05M733.5 16.62h-2.05M524.5 13.66h2.05M733.5 13.66h-2.05M524.5 10.71h2.05M733.5 10.71h-2.05M524.5 7.75h2.05M733.5 7.75h-2.05M524.5 4.8h2.05M733.5 4.8h-2.05" stroke="#111" stroke-width="1.15" fill="none"/>
<text transform="translate(521.1 178.5) scale(1 1.0)" text-anchor="end" font-size="11.6">0</text>
<text transform="translate(521.1 153.54) scale(1 1.0)" text-anchor="end" font-size="11.6">10</text>
<text transform="translate(521.1 123.98) scale(1 1.0)" text-anchor="end" font-size="11.6">20</text>
<text transform="translate(521.1 94.42) scale(1 1.0)" text-anchor="end" font-size="11.6">30</text>
<text transform="translate(521.1 64.86) scale(1 1.0)" text-anchor="end" font-size="11.6">40</text>
<text transform="translate(521.1 35.3) scale(1 1.0)" text-anchor="end" font-size="11.6">50</text>
<text transform="translate(521.1 9.1) scale(1 1.0)" text-anchor="end" font-size="11.6">60</text>
<path d="M524.5 227.5h4.1M733.5 227.5h-4.1M524.5 212.2h4.1M733.5 212.2h-4.1M524.5 196.9h4.1M733.5 196.9h-4.1M524.5 181.6h4.1M733.5 181.6h-4.1" stroke="#111" stroke-width="1.15" fill="none"/>
<text transform="translate(521.1 231.4) scale(1 1.0)" text-anchor="end" font-size="11.6">0</text>
<text transform="translate(521.1 216.1) scale(1 1.0)" text-anchor="end" font-size="11.6">4</text>
<text transform="translate(521.1 200.8) scale(1 1.0)" text-anchor="end" font-size="11.6">8</text>
<text transform="translate(521.1 185.5) scale(1 1.0)" text-anchor="end" font-size="11.6">12</text>
<path d="M524.5 279h4.1M733.5 279h-4.1M524.5 265h4.1M733.5 265h-4.1M524.5 251h4.1M733.5 251h-4.1M524.5 237h4.1M733.5 237h-4.1" stroke="#111" stroke-width="1.15" fill="none"/>
<text transform="translate(521.1 282.9) scale(1 1.0)" text-anchor="end" font-size="11.6">0.0</text>
<text transform="translate(521.1 268.9) scale(1 1.0)" text-anchor="end" font-size="11.6">0.7</text>
<text transform="translate(521.1 254.9) scale(1 1.0)" text-anchor="end" font-size="11.6">1.4</text>
<text transform="translate(521.1 240.9) scale(1 1.0)" text-anchor="end" font-size="11.6">2.1</text>
<text transform="translate(566.4 296.8) scale(1 1.0)" text-anchor="middle" font-size="11.6" letter-spacing="-0.4">−5000</text>
<text transform="translate(620.7 296.8) scale(1 1.0)" text-anchor="middle" font-size="11.6" letter-spacing="-0.4">0</text>
<text transform="translate(675 296.8) scale(1 1.0)" text-anchor="middle" font-size="11.6" letter-spacing="-0.4">5000</text>
<text transform="translate(729.3 296.8) scale(1 1.0)" text-anchor="middle" font-size="11.6" letter-spacing="-0.4">10000</text>
<text x="528.1" y="16.7" font-size="12.4" letter-spacing="0.35">Ark120</text>
<text x="542.5" y="201.5" font-size="11.2">f<tspan font-size="7.6" dy="3.0">λ</tspan><tspan dy="-3.0"> (mean)</tspan></text>
<text x="542.5" y="252.9" font-size="11.2">f<tspan font-size="7.6" dy="3.0">λ</tspan><tspan dy="-3.0"> (rms)</tspan></text>
<clipPath id="c01m"><rect x="23" y="326.4" width="209.1" height="177.35"/></clipPath>
<clipPath id="c01n"><rect x="23" y="503.75" width="209.1" height="51.8"/></clipPath>
<clipPath id="c01r"><rect x="23" y="555.55" width="209.1" height="51.65"/></clipPath>
<rect x="23" y="381" width="209.1" height="31.7" fill="#cbdeee"/>
<line x1="23" x2="232.1" y1="391.2" y2="391.2" stroke="#3030ff" stroke-width="1.4" stroke-dasharray="3 1.8"/>
<g clip-path="url(#c01m)" stroke="#151515" stroke-width="1.1" fill="#000">
<path d="M52.1 498.4H104.2M78.3 407.6V510M52.1 496.8v3.2M104.2 496.8v3.2M76.7 407.6h3.2M76.7 510h3.2M104.2 386.2H113M108.6 376.6V398.3M104.2 384.6v3.2M113 384.6v3.2M107 376.6h3.2M107 398.3h3.2M112.7 385.6H120.1M116.4 376.6V412.5M112.7 384v3.2M120.1 384v3.2M114.8 376.6h3.2M114.8 412.5h3.2M119.4 386.2H126.8M123.1 377.8V397.3M119.4 384.6v3.2M126.8 384.6v3.2M121.5 377.8h3.2M121.5 397.3h3.2M126 389.6H132M129.3 382.2V416.6M126 388v3.2M132 388v3.2M127.7 382.2h3.2M127.7 416.6h3.2M132.7 393.3H139.4M135.7 385V435M132.7 391.7v3.2M139.4 391.7v3.2M134.1 385h3.2M134.1 435h3.2M149.7 353.8H196.7M173.1 336.7V370.1M149.7 352.2v3.2M196.7 352.2v3.2M171.5 336.7h3.2M171.5 370.1h3.2" fill="none"/>
<circle cx="78.3" cy="498.4" r="2.3" stroke="none"/>
<circle cx="108.6" cy="386.2" r="2.3" stroke="none"/>
<circle cx="116.4" cy="385.6" r="2.3" stroke="none"/>
<circle cx="123.1" cy="386.2" r="2.3" stroke="none"/>
<circle cx="129.3" cy="389.6" r="2.3" stroke="none"/>
<circle cx="135.7" cy="393.3" r="2.3" stroke="none"/>
<circle cx="173.1" cy="353.8" r="2.3" stroke="none"/>
</g>
<path clip-path="url(#c01n)" d="M23.5 551.4 L25.5 551.36 L27.5 551.32 L29.5 551.28 L31.5 551.23 L33.5 551.19 L35.5 551.13 L37.5 551.07 L39.5 550.99 L41.5 550.89 L43.5 550.78 L45.5 550.63 L47.5 550.48 L49.5 550.3 L51.5 550.13 L53.5 549.93 L55.5 549.73 L57.5 549.51 L59.5 549.29 L61.5 549.05 L63.5 548.81 L65.5 548.56 L67.5 548.31 L69.5 548.04 L71.5 547.74 L73.5 547.41 L75.5 547.02 L77.5 546.54 L79.5 546.01 L81.5 545.43 L83.5 544.81 L85.5 544.09 L87.5 543.29 L89.5 542.35 L91.5 541.22 L93.5 539.78 L95.5 537.97 L97.5 535.89 L99.5 533.72 L101.5 531.54 L103.5 529.19 L105.5 526.72 L107.5 524.18 L109.5 521.51 L111.5 518.73 L113.5 515.96 L115.5 513.11 L117.5 511.98 L119.5 514.19 L121.5 517.41 L123.5 520.14 L125.5 522.03 L127.5 523.23 L129.5 523.72 L131.5 524.04 L133.5 524.92 L135.5 526.63 L137.5 528.81 L139.5 531.1 L141.5 533.6 L143.5 536.16 L145.5 538.41 L147.5 540.15 L149.5 541.4 L151.5 542.29 L153.5 542.97 L155.5 543.48 L157.5 543.85 L159.5 544.16 L161.5 544.45 L163.5 544.74 L165.5 545.05 L167.5 545.38 L169.5 545.68 L171.5 546 L173.5 546.34 L175.5 546.73 L177.5 547.18 L179.5 547.68 L181.5 548.25 L183.5 548.83 L185.5 549.16 L187.5 550.07 L189.5 550.38 L191.5 551.09 L193.5 551.21 L195.5 551.34 L197.5 551.7 L199.5 551.57 L201.5 552.14 L203.5 551.83 L205.5 552.48 L207.5 552.17 L209.5 552.47 L211.5 552.2 L213.5 551.77 L215.5 551.66 L217.5 551.42 L219.5 551.27 L221.5 551.33 L223.5 550.57 L225.5 550.17 L227.5 549.63 L229.5 550.24 L231.5 551.08 L232.3 551.6" stroke="#111" stroke-width="1.3" fill="none" stroke-linejoin="round"/>
<path clip-path="url(#c01r)" d="M23.5 597.48 L24.5 597.72 L25.5 597.77 L26.5 598.65 L27.5 597.86 L28.5 599.47 L29.5 598.23 L30.5 598.88 L31.5 598.76 L32.5 596.83 L33.5 598.05 L34.5 595.8 L35.5 596.58 L36.5 596.98 L37.5 594.85 L38.5 596.48 L39.5 595.38 L40.5 594.5 L41.5 596 L42.5 595.13 L43.5 595.23 L44.5 596.17 L45.5 596.15 L46.5 595.82 L47.5 596.21 L48.5 595.63 L49.5 595.29 L50.5 596.47 L51.5 596.06 L52.5 594.86 L53.5 595.72 L54.5 596.21 L55.5 595.03 L56.5 594.48 L57.5 594.23 L58.5 593.8 L59.5 594.78 L60.5 594.87 L61.5 594.62 L62.5 593.19 L63.5 593.88 L64.5 594.29 L65.5 594 L66.5 593.92 L67.5 593.51 L68.5 592.1 L69.5 591.85 L70.5 591.76 L71.5 592.42 L72.5 591.79 L73.5 590.48 L74.5 591.74 L75.5 591.57 L76.5 591.57 L77.5 592.94 L78.5 592.84 L79.5 593.8 L80.5 593.51 L81.5 593.93 L82.5 594.57 L83.5 593.19 L84.5 595.17 L85.5 594.19 L86.5 594.24 L87.5 594.78 L88.5 592.89 L89.5 593.67 L90.5 593.76 L91.5 592.38 L92.5 592.43 L93.5 590.93 L94.5 588.69 L95.5 587.65 L96.5 585.85 L97.5 583.18 L98.5 581.97 L99.5 580.43 L100.5 578.28 L101.5 576.48 L102.5 575.35 L103.5 573.95 L104.5 573.04 L105.5 573.49 L106.5 570.97 L107.5 571.8 L108.5 570.56 L109.5 569.75 L110.5 568.07 L111.5 566.94 L112.5 566.59 L113.5 566.56 L114.5 566.08 L115.5 564.38 L116.5 564.8 L117.5 563.14 L118.5 564.26 L119.5 563.59 L120.5 563.01 L121.5 563.81 L122.5 564.71 L123.5 564.59 L124.5 564.92 L125.5 563.6 L126.5 564.24 L127.5 564.46 L128.5 564.21 L129.5 563.17 L130.5 564.41 L131.5 564.65 L132.5 563.57 L133.5 563.13 L134.5 564.61 L135.5 564.54 L136.5 564.46 L137.5 564.49 L138.5 566.3 L139.5 568.32 L140.5 569.27 L141.5 570.51 L142.5 573.91 L143.5 576.21 L144.5 577.9 L145.5 581.94 L146.5 583.43 L147.5 586.23 L148.5 588.24 L149.5 588.13 L150.5 589.27 L151.5 590.01 L152.5 590 L153.5 590.63 L154.5 589.44 L155.5 591.21 L156.5 591.23 L157.5 590.25 L158.5 591.92 L159.5 590.47 L160.5 592.23 L161.5 591.69 L162.5 593.17 L163.5 592.09 L164.5 592.97 L165.5 593.37 L166.5 593.12 L167.5 592.77 L168.5 594.68 L169.5 594.02 L170.5 593.91 L171.5 594.71 L172.5 593.59 L173.5 594.04 L174.5 593.72 L175.5 595.63 L176.5 594.36 L177.5 595.25 L178.5 596.31 L179.5 595.59 L180.5 594.55 L181.5 596.46 L182.5 596.78 L183.5 595.81 L184.5 596.12 L185.5 596.34 L186.5 596.42 L187.5 596.15 L188.5 595.09 L189.5 595.49 L190.5 597.56 L191.5 597.49 L192.5 596.93 L193.5 596.92 L194.5 597.75 L195.5 597.35 L196.5 595.7 L197.5 597.61 L198.5 596.16 L199.5 597.62 L200.5 597.41 L201.5 597.61 L202.5 597.86 L203.5 597.08 L204.5 597.93 L205.5 597.64 L206.5 597.84 L207.5 596.1 L208.5 597.07 L209.5 597.94 L210.5 596.27 L211.5 596.41 L212.5 597.68 L213.5 598.08 L214.5 597.33 L215.5 597.78 L216.5 595.96 L217.5 595.88 L218.5 595.35 L219.5 596.19 L220.5 596.68 L221.5 595.33 L222.5 593.63 L223.5 594.19 L224.5 591.37 L225.5 591.38 L226.5 592.51 L227.5 591.38 L228.5 592.15 L229.5 592.62 L230.5 593.23 L231.5 594.7 L232.3 598.04" stroke="#111" stroke-width="1.3" fill="none" stroke-linejoin="round"/>
<path d="M23 326.4H232.1V607.2H23ZM23 503.75H232.1M23 555.55H232.1" stroke="#2a2a2a" stroke-width="1.3" fill="none"/>
<path d="M53.9 503.75v-3.4M53.9 326.4v3.4M116.3 503.75v-3.4M116.3 326.4v3.4M178.7 503.75v-3.4M178.7 326.4v3.4M28.94 503.75v-1.75M28.94 326.4v1.75M41.42 503.75v-1.75M41.42 326.4v1.75M66.38 503.75v-1.75M66.38 326.4v1.75M78.86 503.75v-1.75M78.86 326.4v1.75M91.34 503.75v-1.75M91.34 326.4v1.75M103.82 503.75v-1.75M103.82 326.4v1.75M128.78 503.75v-1.75M128.78 326.4v1.75M141.26 503.75v-1.75M141.26 326.4v1.75M153.74 503.75v-1.75M153.74 326.4v1.75M166.22 503.75v-1.75M166.22 326.4v1.75M191.18 503.75v-1.75M191.18 326.4v1.75M203.66 503.75v-1.75M203.66 326.4v1.75M216.14 503.75v-1.75M216.14 326.4v1.75M228.62 503.75v-1.75M228.62 326.4v1.75" stroke="#111" stroke-width="1" fill="none"/>
<path d="M53.9 555.55v-1M53.9 503.75v1M116.3 555.55v-1M116.3 503.75v1M178.7 555.55v-1M178.7 503.75v1" stroke="#111" stroke-width="1" fill="none"/>
<path d="M53.9 607.2v-1M53.9 555.55v1M116.3 607.2v-1M116.3 555.55v1M178.7 607.2v-1M178.7 555.55v1" stroke="#111" stroke-width="1" fill="none"/>
<path d="M23 490.3h4.1M232.1 490.3h-4.1M23 440.77h4.1M232.1 440.77h-4.1M23 391.23h4.1M232.1 391.23h-4.1M23 341.7h4.1M232.1 341.7h-4.1M23 502.68h2.05M232.1 502.68h-2.05M23 477.92h2.05M232.1 477.92h-2.05M23 465.53h2.05M232.1 465.53h-2.05M23 453.15h2.05M232.1 453.15h-2.05M23 428.38h2.05M232.1 428.38h-2.05M23 416h2.05M232.1 416h-2.05M23 403.62h2.05M232.1 403.62h-2.05M23 378.85h2.05M232.1 378.85h-2.05M23 366.47h2.05M232.1 366.47h-2.05M23 354.08h2.05M232.1 354.08h-2.05M23 329.32h2.05M232.1 329.32h-2.05" stroke="#111" stroke-width="1.15" fill="none"/>
<text transform="translate(19.6 494.2) scale(1 1.0)" text-anchor="end" font-size="11.6">−20</text>
<text transform="translate(19.6 444.67) scale(1 1.0)" text-anchor="end" font-size="11.6">0</text>
<text transform="translate(19.6 395.14) scale(1 1.0)" text-anchor="end" font-size="11.6">20</text>
<text transform="translate(19.6 345.6) scale(1 1.0)" text-anchor="end" font-size="11.6">40</text>
<path d="M23 551.6h4.1M232.1 551.6h-4.1M23 537h4.1M232.1 537h-4.1M23 522.4h4.1M232.1 522.4h-4.1M23 507.8h4.1M232.1 507.8h-4.1" stroke="#111" stroke-width="1.15" fill="none"/>
<text transform="translate(19.6 555.5) scale(1 1.0)" text-anchor="end" font-size="11.6">0</text>
<text transform="translate(19.6 540.9) scale(1 1.0)" text-anchor="end" font-size="11.6">2</text>
<text transform="translate(19.6 526.3) scale(1 1.0)" text-anchor="end" font-size="11.6">4</text>
<text transform="translate(19.6 511.7) scale(1 1.0)" text-anchor="end" font-size="11.6">6</text>
<path d="M23 602.9h4.1M232.1 602.9h-4.1M23 591.73h4.1M232.1 591.73h-4.1M23 580.57h4.1M232.1 580.57h-4.1M23 569.4h4.1M232.1 569.4h-4.1M23 558.23h4.1M232.1 558.23h-4.1" stroke="#111" stroke-width="1.15" fill="none"/>
<text transform="translate(19.6 606.8) scale(1 1.0)" text-anchor="end" font-size="11.6">0.0</text>
<text transform="translate(19.6 595.64) scale(1 1.0)" text-anchor="end" font-size="11.6">0.1</text>
<text transform="translate(19.6 584.47) scale(1 1.0)" text-anchor="end" font-size="11.6">0.2</text>
<text transform="translate(19.6 573.3) scale(1 1.0)" text-anchor="end" font-size="11.6">0.3</text>
<text transform="translate(19.6 563.3) scale(1 1.0)" text-anchor="end" font-size="11.6">0.4</text>
<text transform="translate(53.7 621.2) scale(1 1.0)" text-anchor="middle" font-size="11.6" letter-spacing="-0.4">−5000</text>
<text transform="translate(116.1 621.2) scale(1 1.0)" text-anchor="middle" font-size="11.6" letter-spacing="-0.4">0</text>
<text transform="translate(178.5 621.2) scale(1 1.0)" text-anchor="middle" font-size="11.6" letter-spacing="-0.4">5000</text>
<text x="26.5" y="337.4" font-size="12.4" letter-spacing="0.35">Mrk9</text>
<text x="41" y="526.1" font-size="11.2">f<tspan font-size="7.6" dy="3.0">λ</tspan><tspan dy="-3.0"> (mean)</tspan></text>
<text x="41" y="577.5" font-size="11.2">f<tspan font-size="7.6" dy="3.0">λ</tspan><tspan dy="-3.0"> (rms)</tspan></text>
<clipPath id="c11m"><rect x="273.7" y="326.4" width="209" height="177.35"/></clipPath>
<clipPath id="c11n"><rect x="273.7" y="503.75" width="209" height="51.8"/></clipPath>
<clipPath id="c11r"><rect x="273.7" y="555.55" width="209" height="51.65"/></clipPath>
<rect x="273.7" y="390" width="209" height="52.2" fill="#cbdeee"/>
<line x1="273.7" x2="482.7" y1="418" y2="418" stroke="#3030ff" stroke-width="1.4" stroke-dasharray="3 1.8"/>
<g clip-path="url(#c11m)" stroke="#151515" stroke-width="1.1" fill="#000">
<path d="M305.5 497H350.7M328.1 491.1V510M305.5 495.4v3.2M350.7 495.4v3.2M326.5 491.1h3.2M326.5 510h3.2M350.3 384.6H363.5M356.8 370.6V405M350.3 383v3.2M363.5 383v3.2M355.2 370.6h3.2M355.2 405h3.2M363 392.1H372.7M367.6 373.6V410.8M363 390.5v3.2M372.7 390.5v3.2M366 373.6h3.2M366 410.8h3.2M372.7 412H379.5M375.6 341.4V439.9M372.7 410.4v3.2M379.5 410.4v3.2M374 341.4h3.2M374 439.9h3.2M378.6 438.2H384.5M381.5 424.7V453.1M378.6 436.6v3.2M384.5 436.6v3.2M379.9 424.7h3.2M379.9 453.1h3.2M384 448.7H388.8M386.6 436.9V458.9M384 447.1v3.2M388.8 447.1v3.2M385 436.9h3.2M385 458.9h3.2M389.1 445.3H394.7M391.8 427.6V456.5M389.1 443.7v3.2M394.7 443.7v3.2M390.2 427.6h3.2M390.2 456.5h3.2M394.7 452.1H449.4M422.3 393.9V484.8M394.7 450.5v3.2M449.4 450.5v3.2M420.7 393.9h3.2M420.7 484.8h3.2" fill="none"/>
<circle cx="328.1" cy="497" r="2.3" stroke="none"/>
<circle cx="356.8" cy="384.6" r="2.3" stroke="none"/>
<circle cx="367.6" cy="392.1" r="2.3" stroke="none"/>
<circle cx="375.6" cy="412" r="2.3" stroke="none"/>
<circle cx="381.5" cy="438.2" r="2.3" stroke="none"/>
<circle cx="386.6" cy="448.7" r="2.3" stroke="none"/>
<circle cx="391.8" cy="445.3" r="2.3" stroke="none"/>
<circle cx="422.3" cy="452.1" r="2.3" stroke="none"/>
</g>
<path clip-path="url(#c11n)" d="M273.5 551.25 L275.5 551.63 L277.5 551.29 L279.5 551.39 L281.5 550.98 L283.5 551.2 L285.5 551.47 L287.5 551.06 L289.5 551.45 L291.5 551.3 L293.5 551.46 L295.5 551.53 L297.5 551.73 L299.5 551.19 L301.5 551.72 L303.5 551.63 L305.5 552.06 L307.5 551.5 L309.5 551.97 L311.5 552.02 L313.5 551.45 L315.5 551.38 L317.5 551.76 L319.5 551.11 L321.5 551.2 L323.5 551.2 L325.5 550.58 L327.5 549.74 L329.5 549.31 L331.5 548.99 L333.5 548.1 L335.5 547.32 L337.5 545.97 L339.5 545.26 L341.5 544.08 L343.5 543.27 L345.5 542.49 L347.5 540.74 L349.5 540.35 L351.5 538.96 L353.5 538.08 L355.5 536.68 L357.5 536.56 L359.5 535.16 L361.5 534.86 L363.5 534.13 L365.5 532.83 L367.5 531.21 L369.5 528.87 L371.5 523.04 L373.5 514.7 L375.5 512.08 L377.5 517.92 L379.5 523 L381.5 524.87 L383.5 525.59 L385.5 525.76 L387.5 526.89 L389.5 529.28 L391.5 532.84 L393.5 535.38 L395.5 537.88 L397.5 540.07 L399.5 542.72 L401.5 543.58 L403.5 544.56 L405.5 544.57 L407.5 543.91 L409.5 543.17 L411.5 543.76 L413.5 544.05 L415.5 545.19 L417.5 546.06 L419.5 546.85 L421.5 546.3 L423.5 546.54 L425.5 547.11 L427.5 546.83 L429.5 547.17 L431.5 547.71 L433.5 547.88 L435.5 547.8 L437.5 548.15 L439.5 549.28 L441.5 549.15 L443.5 550.02 L445.5 550.69 L447.5 551.12 L449.5 552 L451.5 551.91 L453.5 551.89 L455.5 551.69 L457.5 551.46 L459.5 552.07 L461.5 551.93 L463.5 551.81 L465.5 551.35 L467.5 551.72 L469.5 551.29 L471.5 551.3 L473.5 552.14 L475.5 551.77 L477.5 551.73 L479.5 552.01 L481.5 551.8 L482.6 552" stroke="#111" stroke-width="1.3" fill="none" stroke-linejoin="round"/>
<path clip-path="url(#c11r)" d="M273.5 595.96 L274.5 594.95 L275.5 593.12 L276.5 595.19 L277.5 595.16 L278.5 594.42 L279.5 595.14 L280.5 595.08 L281.5 594.19 L282.5 594.07 L283.5 597.11 L284.5 595.88 L285.5 594.59 L286.5 595.28 L287.5 597.25 L288.5 594.72 L289.5 596.77 L290.5 595.54 L291.5 594.65 L292.5 596.21 L293.5 594.13 L294.5 594.02 L295.5 596.01 L296.5 594.06 L297.5 595.5 L298.5 597.04 L299.5 594.99 L300.5 596.63 L301.5 595.11 L302.5 596.78 L303.5 596.37 L304.5 594.27 L305.5 593.81 L306.5 596.65 L307.5 593.85 L308.5 595.03 L309.5 594.83 L310.5 595.31 L311.5 595.26 L312.5 594.84 L313.5 594.33 L314.5 594.24 L315.5 595.34 L316.5 594.51 L317.5 596.14 L318.5 593.64 L319.5 594.92 L320.5 594.1 L321.5 593.02 L322.5 594.85 L323.5 595.48 L324.5 595.15 L325.5 594.9 L326.5 594.63 L327.5 594.84 L328.5 593.11 L329.5 592.7 L330.5 592.48 L331.5 592.08 L332.5 593.04 L333.5 592.33 L334.5 593.94 L335.5 591.19 L336.5 592.99 L337.5 591.82 L338.5 590.36 L339.5 591.55 L340.5 590.01 L341.5 589.39 L342.5 587.71 L343.5 588.13 L344.5 587.46 L345.5 586.95 L346.5 585.62 L347.5 584.94 L348.5 585.35 L349.5 585.3 L350.5 586.17 L351.5 585.63 L352.5 584.16 L353.5 585.53 L354.5 585.44 L355.5 585.27 L356.5 585.79 L357.5 583.53 L358.5 585.31 L359.5 583.63 L360.5 584.07 L361.5 584.65 L362.5 585.15 L363.5 582.26 L364.5 584.53 L365.5 581.24 L366.5 581.45 L367.5 582.02 L368.5 579.64 L369.5 579.33 L370.5 579.03 L371.5 577.57 L372.5 577.87 L373.5 578.07 L374.5 577.48 L375.5 576.99 L376.5 574.94 L377.5 570.88 L378.5 569.87 L379.5 571.71 L380.5 571.13 L381.5 572.52 L382.5 569.42 L383.5 567.94 L384.5 566.2 L385.5 566.42 L386.5 564.62 L387.5 563.43 L388.5 565.76 L389.5 567.87 L390.5 569.78 L391.5 570.77 L392.5 575.6 L393.5 578.55 L394.5 579.03 L395.5 581.93 L396.5 584.86 L397.5 586.37 L398.5 590.53 L399.5 592.07 L400.5 592.41 L401.5 591.76 L402.5 592.97 L403.5 595.01 L404.5 593.11 L405.5 594.85 L406.5 594.11 L407.5 594.64 L408.5 592.49 L409.5 590.66 L410.5 593.07 L411.5 589.79 L412.5 591.09 L413.5 589.93 L414.5 592.42 L415.5 590.64 L416.5 591.28 L417.5 590.87 L418.5 590.88 L419.5 591.25 L420.5 593.8 L421.5 592.09 L422.5 591.07 L423.5 592.78 L424.5 593.7 L425.5 593.54 L426.5 594.95 L427.5 594.37 L428.5 593.4 L429.5 595.21 L430.5 593.85 L431.5 594.43 L432.5 595.05 L433.5 595.22 L434.5 594.53 L435.5 593.6 L436.5 593.9 L437.5 595.28 L438.5 595.2 L439.5 593.77 L440.5 590.98 L441.5 591.75 L442.5 594.83 L443.5 593.78 L444.5 595.16 L445.5 596.33 L446.5 596.76 L447.5 594.67 L448.5 595.12 L449.5 597.51 L450.5 595.22 L451.5 595.9 L452.5 596.6 L453.5 596.56 L454.5 595.64 L455.5 596.13 L456.5 594.39 L457.5 596.98 L458.5 596.85 L459.5 594.55 L460.5 596.07 L461.5 594.74 L462.5 594.99 L463.5 595.79 L464.5 596.34 L465.5 597.82 L466.5 596.44 L467.5 597.52 L468.5 596.64 L469.5 597.11 L470.5 595.75 L471.5 597.36 L472.5 598.56 L473.5 598.08 L474.5 597.89 L475.5 597.29 L476.5 596.58 L477.5 597.42 L478.5 597.47 L479.5 598.57 L480.5 595.92 L481.5 596.08 L482.5 597.1 L482.6 597.9" stroke="#111" stroke-width="1.3" fill="none" stroke-linejoin="round"/>
<path d="M273.7 326.4H482.7V607.2H273.7ZM273.7 503.75H482.7M273.7 555.55H482.7" stroke="#2a2a2a" stroke-width="1.3" fill="none"/>
<path d="M301.8 503.75v-3.4M301.8 326.4v3.4M338.5 503.75v-3.4M338.5 326.4v3.4M375.2 503.75v-3.4M375.2 326.4v3.4M411.9 503.75v-3.4M411.9 326.4v3.4M448.6 503.75v-3.4M448.6 326.4v3.4M279.78 503.75v-1.75M279.78 326.4v1.75M287.12 503.75v-1.75M287.12 326.4v1.75M294.46 503.75v-1.75M294.46 326.4v1.75M309.14 503.75v-1.75M309.14 326.4v1.75M316.48 503.75v-1.75M316.48 326.4v1.75M323.82 503.75v-1.75M323.82 326.4v1.75M331.16 503.75v-1.75M331.16 326.4v1.75M345.84 503.75v-1.75M345.84 326.4v1.75M353.18 503.75v-1.75M353.18 326.4v1.75M360.52 503.75v-1.75M360.52 326.4v1.75M367.86 503.75v-1.75M367.86 326.4v1.75M382.54 503.75v-1.75M382.54 326.4v1.75M389.88 503.75v-1.75M389.88 326.4v1.75M397.22 503.75v-1.75M397.22 326.4v1.75M404.56 503.75v-1.75M404.56 326.4v1.75M419.24 503.75v-1.75M419.24 326.4v1.75M426.58 503.75v-1.75M426.58 326.4v1.75M433.92 503.75v-1.75M433.92 326.4v1.75M441.26 503.75v-1.75M441.26 326.4v1.75M455.94 503.75v-1.75M455.94 326.4v1.75M463.28 503.75v-1.75M463.28 326.4v1.75M470.62 503.75v-1.75M470.62 326.4v1.75M477.96 503.75v-1.75M477.96 326.4v1.75" stroke="#111" stroke-width="1" fill="none"/>
<path d="M301.8 555.55v-1M301.8 503.75v1M338.5 555.55v-1M338.5 503.75v1M375.2 555.55v-1M375.2 503.75v1M411.9 555.55v-1M411.9 503.75v1M448.6 555.55v-1M448.6 503.75v1" stroke="#111" stroke-width="1" fill="none"/>
<path d="M301.8 607.2v-1M301.8 555.55v1M338.5 607.2v-1M338.5 555.55v1M375.2 607.2v-1M375.2 555.55v1M411.9 607.2v-1M411.9 555.55v1M448.6 607.2v-1M448.6 555.55v1" stroke="#111" stroke-width="1" fill="none"/>
<path d="M273.7 490.1h4.1M482.7 490.1h-4.1M273.7 442.27h4.1M482.7 442.27h-4.1M273.7 394.43h4.1M482.7 394.43h-4.1M273.7 346.6h4.1M482.7 346.6h-4.1M273.7 502.06h2.05M482.7 502.06h-2.05M273.7 478.14h2.05M482.7 478.14h-2.05M273.7 466.18h2.05M482.7 466.18h-2.05M273.7 454.23h2.05M482.7 454.23h-2.05M273.7 430.31h2.05M482.7 430.31h-2.05M273.7 418.35h2.05M482.7 418.35h-2.05M273.7 406.39h2.05M482.7 406.39h-2.05M273.7 382.48h2.05M482.7 382.48h-2.05M273.7 370.52h2.05M482.7 370.52h-2.05M273.7 358.56h2.05M482.7 358.56h-2.05M273.7 334.64h2.05M482.7 334.64h-2.05" stroke="#111" stroke-width="1.15" fill="none"/>
<text transform="translate(270.3 494) scale(1 1.0)" text-anchor="end" font-size="11.6">0</text>
<text transform="translate(270.3 446.17) scale(1 1.0)" text-anchor="end" font-size="11.6">20</text>
<text transform="translate(270.3 398.34) scale(1 1.0)" text-anchor="end" font-size="11.6">40</text>
<text transform="translate(270.3 350.5) scale(1 1.0)" text-anchor="end" font-size="11.6">60</text>
<path d="M273.7 551.2h4.1M482.7 551.2h-4.1M273.7 536.47h4.1M482.7 536.47h-4.1M273.7 521.73h4.1M482.7 521.73h-4.1M273.7 507h4.1M482.7 507h-4.1" stroke="#111" stroke-width="1.15" fill="none"/>
<text transform="translate(270.3 555.1) scale(1 1.0)" text-anchor="end" font-size="11.6">0</text>
<text transform="translate(270.3 540.37) scale(1 1.0)" text-anchor="end" font-size="11.6">3</text>
<text transform="translate(270.3 525.64) scale(1 1.0)" text-anchor="end" font-size="11.6">6</text>
<text transform="translate(270.3 510.9) scale(1 1.0)" text-anchor="end" font-size="11.6">9</text>
<path d="M273.7 602.9h4.1M482.7 602.9h-4.1M273.7 591.4h4.1M482.7 591.4h-4.1M273.7 579.9h4.1M482.7 579.9h-4.1M273.7 568.4h4.1M482.7 568.4h-4.1M273.7 556.9h4.1M482.7 556.9h-4.1" stroke="#111" stroke-width="1.15" fill="none"/>
<text transform="translate(270.3 606.8) scale(1 1.0)" text-anchor="end" font-size="11.6">0.0</text>
<text transform="translate(270.3 595.3) scale(1 1.0)" text-anchor="end" font-size="11.6">0.1</text>
<text transform="translate(270.3 583.8) scale(1 1.0)" text-anchor="end" font-size="11.6">0.2</text>
<text transform="translate(270.3 572.3) scale(1 1.0)" text-anchor="end" font-size="11.6">0.3</text>
<text transform="translate(270.3 563.9) scale(1 1.0)" text-anchor="end" font-size="11.6">0.4</text>
<text transform="translate(301.6 621.2) scale(1 1.0)" text-anchor="middle" font-size="11.6" letter-spacing="-0.4">−10000</text>
<text transform="translate(338.3 621.2) scale(1 1.0)" text-anchor="middle" font-size="11.6" letter-spacing="-0.4">−5000</text>
<text transform="translate(375 621.2) scale(1 1.0)" text-anchor="middle" font-size="11.6" letter-spacing="-0.4">0</text>
<text transform="translate(411.7 621.2) scale(1 1.0)" text-anchor="middle" font-size="11.6" letter-spacing="-0.4">5000</text>
<text transform="translate(448.4 621.2) scale(1 1.0)" text-anchor="middle" font-size="11.6" letter-spacing="-0.4">10000</text>
<text x="277.5" y="344.6" font-size="12.4" letter-spacing="0.35">Mrk704</text>
<text x="292" y="526.1" font-size="11.2">f<tspan font-size="7.6" dy="3.0">λ</tspan><tspan dy="-3.0"> (mean)</tspan></text>
<text x="292" y="577.5" font-size="11.2">f<tspan font-size="7.6" dy="3.0">λ</tspan><tspan dy="-3.0"> (rms)</tspan></text>
<clipPath id="c21m"><rect x="524.5" y="326.4" width="209" height="177.35"/></clipPath>
<clipPath id="c21n"><rect x="524.5" y="503.75" width="209" height="51.8"/></clipPath>
<clipPath id="c21r"><rect x="524.5" y="555.55" width="209" height="51.65"/></clipPath>
<rect x="524.5" y="375.9" width="209" height="38" fill="#cbdeee"/>
<line x1="524.5" x2="733.5" y1="398.9" y2="398.9" stroke="#3030ff" stroke-width="1.4" stroke-dasharray="3 1.8"/>
<g clip-path="url(#c21m)" stroke="#151515" stroke-width="1.1" fill="#000">
<path d="M552.1 403.6H598.3M575.3 368.2V423.3M552.1 402v3.2M598.3 402v3.2M573.7 368.2h3.2M573.7 423.3h3.2M598.3 395.2H611.7M605.2 371.8V412.5M598.3 393.6v3.2M611.7 393.6v3.2M603.6 371.8h3.2M603.6 412.5h3.2M611.7 377.5H619.9M615.6 351.5V395.2M611.7 375.9v3.2M619.9 375.9v3.2M614 351.5h3.2M614 395.2h3.2M619.9 368.1H626.8M623.4 344.3V384.3M619.9 366.5v3.2M626.8 366.5v3.2M621.8 344.3h3.2M621.8 384.3h3.2M626.7 374.7H635.6M631.4 350.4V392.4M626.7 373.1v3.2M635.6 373.1v3.2M629.8 350.4h3.2M629.8 392.4h3.2M635.2 388H645.3M640.5 363.9V404.2M635.2 386.4v3.2M645.3 386.4v3.2M638.9 363.9h3.2M638.9 404.2h3.2M645.3 405.5H662.8M653.8 383.7V421.7M645.3 403.9v3.2M662.8 403.9v3.2M652.2 383.7h3.2M652.2 421.7h3.2M662.2 480.3H696.4M679.3 450.4V502.2M662.2 478.7v3.2M696.4 478.7v3.2M677.7 450.4h3.2M677.7 502.2h3.2" fill="none"/>
<circle cx="575.3" cy="403.6" r="2.3" stroke="none"/>
<circle cx="605.2" cy="395.2" r="2.3" stroke="none"/>
<circle cx="615.6" cy="377.5" r="2.3" stroke="none"/>
<circle cx="623.4" cy="368.1" r="2.3" stroke="none"/>
<circle cx="631.4" cy="374.7" r="2.3" stroke="none"/>
<circle cx="640.5" cy="388" r="2.3" stroke="none"/>
<circle cx="653.8" cy="405.5" r="2.3" stroke="none"/>
<circle cx="679.3" cy="480.3" r="2.3" stroke="none"/>
</g>
<path clip-path="url(#c21n)" d="M524.4 551.1 L526.93 550.94 L530.49 550.73 L534.66 550.47 L539.04 550.19 L543.2 549.9 L547.27 549.6 L551.53 549.28 L555.79 548.95 L559.87 548.59 L563.6 548.2 L566.92 547.8 L569.96 547.4 L572.79 546.96 L575.48 546.47 L578.1 545.9 L580.65 545.25 L583.09 544.54 L585.41 543.77 L587.61 542.95 L589.7 542.1 L591.65 541.22 L593.46 540.31 L595.16 539.34 L596.8 538.31 L598.4 537.2 L599.97 535.99 L601.49 534.71 L602.96 533.35 L604.36 531.95 L605.7 530.5 L606.98 528.98 L608.2 527.36 L609.36 525.72 L610.46 524.12 L611.5 522.6 L612.46 521.15 L613.35 519.73 L614.19 518.38 L615 517.12 L615.8 516 L616.6 514.96 L617.37 513.99 L618.13 513.15 L618.87 512.52 L619.6 512.2 L620.31 512.19 L620.98 512.44 L621.66 512.93 L622.35 513.62 L623.1 514.5 L623.88 515.64 L624.69 517.06 L625.53 518.65 L626.43 520.27 L627.4 521.8 L628.42 523.26 L629.47 524.73 L630.59 526.18 L631.82 527.61 L633.2 529 L634.72 530.36 L636.37 531.7 L638.13 533 L640.01 534.24 L642 535.4 L644.05 536.45 L646.16 537.39 L648.41 538.29 L650.86 539.17 L653.6 540.1 L656.71 541.08 L660.14 542.1 L663.76 543.11 L667.43 544.09 L671 545 L674.48 545.86 L677.96 546.69 L681.44 547.46 L684.92 548.17 L688.4 548.8 L691.93 549.35 L695.5 549.83 L699.05 550.23 L702.51 550.56 L705.8 550.8 L708.9 550.94 L711.87 550.99 L714.73 550.96 L717.52 550.89 L720.3 550.8 L723.25 550.66 L726.34 550.46 L729.3 550.24 L731.81 550.04 L733.6 549.9" stroke="#111" stroke-width="1.3" fill="none" stroke-linejoin="round"/>
<path clip-path="url(#c21r)" d="M524.4 601.31 L526.4 601.61 L528.4 601.27 L530.4 601.37 L532.4 600.91 L534.4 600.86 L536.4 600.65 L538.4 600.71 L540.4 600.68 L542.4 600.34 L544.4 600.02 L546.4 599.78 L548.4 599.86 L550.4 599.79 L552.4 599.36 L554.4 599.46 L556.4 599.15 L558.4 598.79 L560.4 598.98 L562.4 598.89 L564.4 598.38 L566.4 598.26 L568.4 597.89 L570.4 597.29 L572.4 597.17 L574.4 596.9 L576.4 596.07 L578.4 595.6 L580.4 594.94 L582.4 593.98 L584.4 593.53 L586.4 592.52 L588.4 591.73 L590.4 590.32 L592.4 589.16 L594.4 587.9 L596.4 586.51 L598.4 585.1 L600.4 583.19 L602.4 581.39 L604.4 579.33 L606.4 577.62 L608.4 575.76 L610.4 573.9 L612.4 571.31 L614.4 569.37 L616.4 567.56 L618.4 566.04 L620.4 564.58 L622.4 563.74 L624.4 563.31 L626.4 563.62 L628.4 563.91 L630.4 564.96 L632.4 566.59 L634.4 568.55 L636.4 570.07 L638.4 571.82 L640.4 574.06 L642.4 575.96 L644.4 578.19 L646.4 579.78 L648.4 582.22 L650.4 584.02 L652.4 586.18 L654.4 587.55 L656.4 589.26 L658.4 590.5 L660.4 591.98 L662.4 593.05 L664.4 593.75 L666.4 594.46 L668.4 595.45 L670.4 596.11 L672.4 596.8 L674.4 597.32 L676.4 597.3 L678.4 597.68 L680.4 598.03 L682.4 598.78 L684.4 598.79 L686.4 599 L688.4 599.21 L690.4 599.41 L692.4 599.55 L694.4 599.71 L696.4 600.08 L698.4 600.16 L700.4 599.9 L702.4 600.02 L704.4 600.51 L706.4 600.6 L708.4 600.18 L710.4 600.32 L712.4 600.6 L714.4 600.42 L716.4 600.73 L718.4 600.51 L720.4 600.93 L722.4 601.18 L724.4 601.39 L726.4 601.37 L728.4 601.61 L730.4 601.85 L732.4 601.98 L733.6 602.35" stroke="#111" stroke-width="1.3" fill="none" stroke-linejoin="round"/>
<path d="M524.5 326.4H733.5V607.2H524.5ZM524.5 503.75H733.5M524.5 555.55H733.5" stroke="#2a2a2a" stroke-width="1.3" fill="none"/>
<path d="M565.9 503.75v-3.4M565.9 326.4v3.4M613.1 503.75v-3.4M613.1 326.4v3.4M660.3 503.75v-3.4M660.3 326.4v3.4M707.5 503.75v-3.4M707.5 326.4v3.4M530.5 503.75v-1.75M530.5 326.4v1.75M542.3 503.75v-1.75M542.3 326.4v1.75M554.1 503.75v-1.75M554.1 326.4v1.75M577.7 503.75v-1.75M577.7 326.4v1.75M589.5 503.75v-1.75M589.5 326.4v1.75M601.3 503.75v-1.75M601.3 326.4v1.75M624.9 503.75v-1.75M624.9 326.4v1.75M636.7 503.75v-1.75M636.7 326.4v1.75M648.5 503.75v-1.75M648.5 326.4v1.75M672.1 503.75v-1.75M672.1 326.4v1.75M683.9 503.75v-1.75M683.9 326.4v1.75M695.7 503.75v-1.75M695.7 326.4v1.75M719.3 503.75v-1.75M719.3 326.4v1.75M731.1 503.75v-1.75M731.1 326.4v1.75" stroke="#111" stroke-width="1" fill="none"/>
<path d="M565.9 555.55v-1M565.9 503.75v1M613.1 555.55v-1M613.1 503.75v1M660.3 555.55v-1M660.3 503.75v1M707.5 555.55v-1M707.5 503.75v1" stroke="#111" stroke-width="1" fill="none"/>
<path d="M565.9 607.2v-1M565.9 555.55v1M613.1 607.2v-1M613.1 555.55v1M660.3 607.2v-1M660.3 555.55v1M707.5 607.2v-1M707.5 555.55v1" stroke="#111" stroke-width="1" fill="none"/>
<path d="M524.5 475.6h4.1M733.5 475.6h-4.1M524.5 431.43h4.1M733.5 431.43h-4.1M524.5 387.27h4.1M733.5 387.27h-4.1M524.5 343.1h4.1M733.5 343.1h-4.1M524.5 502.1h2.05M733.5 502.1h-2.05M524.5 493.27h2.05M733.5 493.27h-2.05M524.5 484.43h2.05M733.5 484.43h-2.05M524.5 466.77h2.05M733.5 466.77h-2.05M524.5 457.93h2.05M733.5 457.93h-2.05M524.5 449.1h2.05M733.5 449.1h-2.05M524.5 440.27h2.05M733.5 440.27h-2.05M524.5 422.6h2.05M733.5 422.6h-2.05M524.5 413.77h2.05M733.5 413.77h-2.05M524.5 404.93h2.05M733.5 404.93h-2.05M524.5 396.1h2.05M733.5 396.1h-2.05M524.5 378.43h2.05M733.5 378.43h-2.05M524.5 369.6h2.05M733.5 369.6h-2.05M524.5 360.77h2.05M733.5 360.77h-2.05M524.5 351.93h2.05M733.5 351.93h-2.05M524.5 334.27h2.05M733.5 334.27h-2.05" stroke="#111" stroke-width="1.15" fill="none"/>
<text transform="translate(521.1 479.5) scale(1 1.0)" text-anchor="end" font-size="11.6">5</text>
<text transform="translate(521.1 435.34) scale(1 1.0)" text-anchor="end" font-size="11.6">10</text>
<text transform="translate(521.1 391.17) scale(1 1.0)" text-anchor="end" font-size="11.6">15</text>
<text transform="translate(521.1 347) scale(1 1.0)" text-anchor="end" font-size="11.6">20</text>
<path d="M524.5 551.3h4.1M733.5 551.3h-4.1M524.5 534.25h4.1M733.5 534.25h-4.1M524.5 517.2h4.1M733.5 517.2h-4.1" stroke="#111" stroke-width="1.15" fill="none"/>
<text transform="translate(521.1 555.2) scale(1 1.0)" text-anchor="end" font-size="11.6">0</text>
<text transform="translate(521.1 538.15) scale(1 1.0)" text-anchor="end" font-size="11.6">2</text>
<text transform="translate(521.1 521.1) scale(1 1.0)" text-anchor="end" font-size="11.6">4</text>
<path d="M524.5 602.9h4.1M733.5 602.9h-4.1M524.5 587.87h4.1M733.5 587.87h-4.1M524.5 572.83h4.1M733.5 572.83h-4.1M524.5 557.8h4.1M733.5 557.8h-4.1" stroke="#111" stroke-width="1.15" fill="none"/>
<text transform="translate(521.1 606.8) scale(1 1.0)" text-anchor="end" font-size="11.6">0.0</text>
<text transform="translate(521.1 591.77) scale(1 1.0)" text-anchor="end" font-size="11.6">0.4</text>
<text transform="translate(521.1 576.74) scale(1 1.0)" text-anchor="end" font-size="11.6">0.8</text>
<text transform="translate(521.1 561.7) scale(1 1.0)" text-anchor="end" font-size="11.6">1.2</text>
<text transform="translate(565.7 621.2) scale(1 1.0)" text-anchor="middle" font-size="11.6" letter-spacing="-0.4">−2000</text>
<text transform="translate(612.9 621.2) scale(1 1.0)" text-anchor="middle" font-size="11.6" letter-spacing="-0.4">0</text>
<text transform="translate(660.1 621.2) scale(1 1.0)" text-anchor="middle" font-size="11.6" letter-spacing="-0.4">2000</text>
<text transform="translate(707.3 621.2) scale(1 1.0)" text-anchor="middle" font-size="11.6" letter-spacing="-0.4">4000</text>
<text x="528.5" y="342.7" font-size="12.4" letter-spacing="0.35">MCG+04–22–042</text>
<text x="542.5" y="526.1" font-size="11.2">f<tspan font-size="7.6" dy="3.0">λ</tspan><tspan dy="-3.0"> (mean)</tspan></text>
<text x="542.5" y="577.5" font-size="11.2">f<tspan font-size="7.6" dy="3.0">λ</tspan><tspan dy="-3.0"> (rms)</tspan></text>
<clipPath id="c02m"><rect x="23" y="651" width="209.1" height="177.35"/></clipPath>
<clipPath id="c02n"><rect x="23" y="828.35" width="209.1" height="51.8"/></clipPath>
<clipPath id="c02r"><rect x="23" y="880.15" width="209.1" height="51.65"/></clipPath>
<rect x="23" y="698.8" width="209.1" height="50.6" fill="#cbdeee"/>
<line x1="23" x2="232.1" y1="723.3" y2="723.3" stroke="#3030ff" stroke-width="1.4" stroke-dasharray="3 1.8"/>
<g clip-path="url(#c02m)" stroke="#151515" stroke-width="1.1" fill="#000">
<path d="M53.6 713.4H104.2M78.9 693.8V732.8M53.6 711.8v3.2M104.2 711.8v3.2M77.3 693.8h3.2M77.3 732.8h3.2M104.5 706.6H113.9M109 693.7V720.5M104.5 705v3.2M113.9 705v3.2M107.4 693.7h3.2M107.4 720.5h3.2M113.5 691.4H121.6M117.5 678.3V703M113.5 689.8v3.2M121.6 689.8v3.2M115.9 678.3h3.2M115.9 703h3.2M121.6 685.5H129.1M125.5 670.4V700.1M121.6 683.9v3.2M129.1 683.9v3.2M123.9 670.4h3.2M123.9 700.1h3.2M129.3 691.4H137.4M133.3 677.4V709.1M129.3 689.8v3.2M137.4 689.8v3.2M131.7 677.4h3.2M131.7 709.1h3.2M137.4 716.1H150.7M143.7 693.2V736.4M137.4 714.5v3.2M150.7 714.5v3.2M142.1 693.2h3.2M142.1 736.4h3.2M150.4 794.4H174.3M162.1 754V824.1M150.4 792.8v3.2M174.3 792.8v3.2M160.5 754h3.2M160.5 824.1h3.2" fill="none"/>
<circle cx="78.9" cy="713.4" r="2.3" stroke="none"/>
<circle cx="109" cy="706.6" r="2.3" stroke="none"/>
<circle cx="117.5" cy="691.4" r="2.3" stroke="none"/>
<circle cx="125.5" cy="685.5" r="2.3" stroke="none"/>
<circle cx="133.3" cy="691.4" r="2.3" stroke="none"/>
<circle cx="143.7" cy="716.1" r="2.3" stroke="none"/>
<circle cx="162.1" cy="794.4" r="2.3" stroke="none"/>
</g>
<path clip-path="url(#c02n)" d="M23.5 875.8 L26.17 875.69 L29.93 875.53 L34.32 875.34 L38.9 875.13 L43.2 874.9 L47.33 874.66 L51.59 874.41 L55.83 874.13 L59.89 873.83 L63.6 873.5 L66.92 873.14 L69.96 872.75 L72.79 872.33 L75.48 871.88 L78.1 871.4 L80.63 870.94 L83.02 870.5 L85.31 870.01 L87.52 869.37 L89.7 868.5 L91.84 867.38 L93.91 866.07 L95.93 864.6 L97.89 863 L99.8 861.3 L101.67 859.44 L103.49 857.39 L105.26 855.26 L106.96 853.13 L108.6 851.1 L110.17 849.11 L111.69 847.09 L113.14 845.14 L114.51 843.34 L115.8 841.8 L117 840.51 L118.11 839.4 L119.14 838.48 L120.1 837.75 L121 837.2 L121.79 836.83 L122.48 836.65 L123.12 836.65 L123.77 836.83 L124.5 837.2 L125.28 837.75 L126.06 838.48 L126.9 839.4 L127.83 840.51 L128.9 841.8 L130.14 843.36 L131.5 845.18 L132.97 847.15 L134.51 849.16 L136.1 851.1 L137.71 852.99 L139.37 854.92 L141.1 856.82 L142.94 858.67 L144.9 860.4 L146.95 862.04 L149.06 863.61 L151.31 865.09 L153.76 866.46 L156.5 867.7 L159.56 868.78 L162.9 869.73 L166.45 870.57 L170.14 871.32 L173.9 872 L177.73 872.61 L181.67 873.12 L185.73 873.56 L189.91 873.94 L194.2 874.3 L198.79 874.62 L203.67 874.9 L208.58 875.14 L213.24 875.34 L217.4 875.5 L221.15 875.62 L224.67 875.7 L227.81 875.74 L230.41 875.77 L232.3 875.8" stroke="#111" stroke-width="1.3" fill="none" stroke-linejoin="round"/>
<path clip-path="url(#c02r)" d="M23.5 926 L25.5 925.92 L27.5 925.65 L29.5 925.78 L31.5 925.21 L33.5 925.56 L35.5 925.35 L37.5 925.1 L39.5 925.07 L41.5 925.24 L43.5 925.15 L45.5 925.21 L47.5 924.76 L49.5 924.82 L51.5 924.77 L53.5 924.85 L55.5 924.8 L57.5 924.75 L59.5 924.46 L61.5 924.66 L63.5 924.8 L65.5 924.26 L67.5 924.34 L69.5 924.44 L71.5 924.27 L73.5 924.16 L75.5 923.86 L77.5 923.57 L79.5 923.48 L81.5 922.74 L83.5 922.54 L85.5 921.52 L87.5 920.69 L89.5 919.64 L91.5 917.77 L93.5 915.86 L95.5 912.99 L97.5 910.22 L99.5 907.81 L101.5 904.82 L103.5 902.42 L105.5 899.54 L107.5 897.02 L109.5 895.05 L111.5 892.84 L113.5 891.06 L115.5 889.71 L117.5 888.93 L119.5 888.64 L121.5 888.53 L123.5 888.85 L125.5 888.92 L127.5 889.77 L129.5 891.06 L131.5 893.56 L133.5 895.36 L135.5 897.28 L137.5 899.2 L139.5 901.68 L141.5 903.15 L143.5 905.11 L145.5 906.74 L147.5 907.98 L149.5 909.42 L151.5 911.1 L153.5 911.81 L155.5 912.92 L157.5 913.83 L159.5 914.29 L161.5 914.96 L163.5 915.48 L165.5 916.11 L167.5 916.37 L169.5 916.56 L171.5 917.33 L173.5 917.21 L175.5 917.61 L177.5 918.05 L179.5 917.93 L181.5 918.37 L183.5 918.67 L185.5 919.19 L187.5 919.08 L189.5 919.61 L191.5 919.94 L193.5 920.21 L195.5 920.06 L197.5 920.54 L199.5 920.99 L201.5 921.21 L203.5 921.19 L205.5 921.78 L207.5 921.92 L209.5 922.48 L211.5 922.96 L213.5 923.14 L215.5 923.55 L217.5 924.19 L219.5 924.22 L221.5 924.91 L223.5 924.81 L225.5 925.13 L227.5 925.21 L229.5 924.52 L231.5 924.43 L232.3 924.35" stroke="#111" stroke-width="1.3" fill="none" stroke-linejoin="round"/>
<path d="M23 651H232.1V931.8H23ZM23 828.35H232.1M23 880.15H232.1" stroke="#2a2a2a" stroke-width="1.3" fill="none"/>
<path d="M33.6 828.35v-3.4M33.6 651v3.4M77.4 828.35v-3.4M77.4 651v3.4M121.2 828.35v-3.4M121.2 651v3.4M165 828.35v-3.4M165 651v3.4M208.8 828.35v-3.4M208.8 651v3.4M44.55 828.35v-1.75M44.55 651v1.75M55.5 828.35v-1.75M55.5 651v1.75M66.45 828.35v-1.75M66.45 651v1.75M88.35 828.35v-1.75M88.35 651v1.75M99.3 828.35v-1.75M99.3 651v1.75M110.25 828.35v-1.75M110.25 651v1.75M132.15 828.35v-1.75M132.15 651v1.75M143.1 828.35v-1.75M143.1 651v1.75M154.05 828.35v-1.75M154.05 651v1.75M175.95 828.35v-1.75M175.95 651v1.75M186.9 828.35v-1.75M186.9 651v1.75M197.85 828.35v-1.75M197.85 651v1.75M219.75 828.35v-1.75M219.75 651v1.75M230.7 828.35v-1.75M230.7 651v1.75" stroke="#111" stroke-width="1" fill="none"/>
<path d="M33.6 880.15v-1M33.6 828.35v1M77.4 880.15v-1M77.4 828.35v1M121.2 880.15v-1M121.2 828.35v1M165 880.15v-1M165 828.35v1M208.8 880.15v-1M208.8 828.35v1" stroke="#111" stroke-width="1" fill="none"/>
<path d="M33.6 931.8v-1M33.6 880.15v1M77.4 931.8v-1M77.4 880.15v1M121.2 931.8v-1M121.2 880.15v1M165 931.8v-1M165 880.15v1M208.8 931.8v-1M208.8 880.15v1" stroke="#111" stroke-width="1" fill="none"/>
<path d="M23 815.1h4.1M232.1 815.1h-4.1M23 765h4.1M232.1 765h-4.1M23 714.9h4.1M232.1 714.9h-4.1M23 664.8h4.1M232.1 664.8h-4.1M23 825.12h2.05M232.1 825.12h-2.05M23 820.11h2.05M232.1 820.11h-2.05M23 810.09h2.05M232.1 810.09h-2.05M23 805.08h2.05M232.1 805.08h-2.05M23 800.07h2.05M232.1 800.07h-2.05M23 795.06h2.05M232.1 795.06h-2.05M23 790.05h2.05M232.1 790.05h-2.05M23 785.04h2.05M232.1 785.04h-2.05M23 780.03h2.05M232.1 780.03h-2.05M23 775.02h2.05M232.1 775.02h-2.05M23 770.01h2.05M232.1 770.01h-2.05M23 759.99h2.05M232.1 759.99h-2.05M23 754.98h2.05M232.1 754.98h-2.05M23 749.97h2.05M232.1 749.97h-2.05M23 744.96h2.05M232.1 744.96h-2.05M23 739.95h2.05M232.1 739.95h-2.05M23 734.94h2.05M232.1 734.94h-2.05M23 729.93h2.05M232.1 729.93h-2.05M23 724.92h2.05M232.1 724.92h-2.05M23 719.91h2.05M232.1 719.91h-2.05M23 709.89h2.05M232.1 709.89h-2.05M23 704.88h2.05M232.1 704.88h-2.05M23 699.87h2.05M232.1 699.87h-2.05M23 694.86h2.05M232.1 694.86h-2.05M23 689.85h2.05M232.1 689.85h-2.05M23 684.84h2.05M232.1 684.84h-2.05M23 679.83h2.05M232.1 679.83h-2.05M23 674.82h2.05M232.1 674.82h-2.05M23 669.81h2.05M232.1 669.81h-2.05M23 659.79h2.05M232.1 659.79h-2.05M23 654.78h2.05M232.1 654.78h-2.05" stroke="#111" stroke-width="1.15" fill="none"/>
<text transform="translate(19.6 819) scale(1 1.0)" text-anchor="end" font-size="11.6">10</text>
<text transform="translate(19.6 768.9) scale(1 1.0)" text-anchor="end" font-size="11.6">20</text>
<text transform="translate(19.6 718.8) scale(1 1.0)" text-anchor="end" font-size="11.6">30</text>
<text transform="translate(19.6 668.7) scale(1 1.0)" text-anchor="end" font-size="11.6">40</text>
<path d="M23 876.2h4.1M232.1 876.2h-4.1M23 864.17h4.1M232.1 864.17h-4.1M23 852.13h4.1M232.1 852.13h-4.1M23 840.1h4.1M232.1 840.1h-4.1" stroke="#111" stroke-width="1.15" fill="none"/>
<text transform="translate(19.6 880.1) scale(1 1.0)" text-anchor="end" font-size="11.6">0</text>
<text transform="translate(19.6 868.07) scale(1 1.0)" text-anchor="end" font-size="11.6">5</text>
<text transform="translate(19.6 856.04) scale(1 1.0)" text-anchor="end" font-size="11.6">10</text>
<text transform="translate(19.6 844) scale(1 1.0)" text-anchor="end" font-size="11.6">15</text>
<path d="M23 927.6h4.1M232.1 927.6h-4.1M23 913.23h4.1M232.1 913.23h-4.1M23 898.87h4.1M232.1 898.87h-4.1M23 884.5h4.1M232.1 884.5h-4.1" stroke="#111" stroke-width="1.15" fill="none"/>
<text transform="translate(19.6 931.5) scale(1 1.0)" text-anchor="end" font-size="11.6">0.0</text>
<text transform="translate(19.6 917.14) scale(1 1.0)" text-anchor="end" font-size="11.6">0.4</text>
<text transform="translate(19.6 902.77) scale(1 1.0)" text-anchor="end" font-size="11.6">0.8</text>
<text transform="translate(19.6 888.4) scale(1 1.0)" text-anchor="end" font-size="11.6">1.2</text>
<text transform="translate(33.4 945.8) scale(1 1.0)" text-anchor="middle" font-size="11.6" letter-spacing="-0.4">−4000</text>
<text transform="translate(77.2 945.8) scale(1 1.0)" text-anchor="middle" font-size="11.6" letter-spacing="-0.4">−2000</text>
<text transform="translate(121 945.8) scale(1 1.0)" text-anchor="middle" font-size="11.6" letter-spacing="-0.4">0</text>
<text transform="translate(164.8 945.8) scale(1 1.0)" text-anchor="middle" font-size="11.6" letter-spacing="-0.4">2000</text>
<text transform="translate(208.6 945.8) scale(1 1.0)" text-anchor="middle" font-size="11.6" letter-spacing="-0.4">4000</text>
<text x="26.6" y="669" font-size="12.4" letter-spacing="0.35">Mrk110</text>
<text x="41" y="850.7" font-size="11.2">f<tspan font-size="7.6" dy="3.0">λ</tspan><tspan dy="-3.0"> (mean)</tspan></text>
<text x="41" y="902.1" font-size="11.2">f<tspan font-size="7.6" dy="3.0">λ</tspan><tspan dy="-3.0"> (rms)</tspan></text>
<clipPath id="c12m"><rect x="273.7" y="651" width="209" height="177.35"/></clipPath>
<clipPath id="c12n"><rect x="273.7" y="828.35" width="209" height="51.8"/></clipPath>
<clipPath id="c12r"><rect x="273.7" y="880.15" width="209" height="51.65"/></clipPath>
<rect x="273.7" y="762" width="209" height="31.8" fill="#cbdeee"/>
<line x1="273.7" x2="482.7" y1="775.6" y2="775.6" stroke="#3030ff" stroke-width="1.4" stroke-dasharray="3 1.8"/>
<g clip-path="url(#c12m)" stroke="#151515" stroke-width="1.1" fill="#000">
<path d="M306.5 741.3H355.1M330.9 669.6V793.6M306.5 739.7v3.2M355.1 739.7v3.2M329.3 669.6h3.2M329.3 793.6h3.2M354.7 798.4H367.1M361 778V824.7M354.7 796.8v3.2M367.1 796.8v3.2M359.4 778h3.2M359.4 824.7h3.2M367.2 775.8H375.3M371.2 762.8V793.8M367.2 774.2v3.2M375.3 774.2v3.2M369.6 762.8h3.2M369.6 793.8h3.2M375.3 768.2H383.4M379.2 755.2V784.3M375.3 766.6v3.2M383.4 766.6v3.2M377.6 755.2h3.2M377.6 784.3h3.2M383.4 766.9H390.6M387 753.8V783.3M383.4 765.3v3.2M390.6 765.3v3.2M385.4 753.8h3.2M385.4 783.3h3.2M390.6 765.5H402.3M396.5 748V786.3M390.6 763.9v3.2M402.3 763.9v3.2M394.9 748h3.2M394.9 786.3h3.2M401.7 732.6H427.4M414.5 679.2V761M401.7 731v3.2M427.4 731v3.2M412.9 679.2h3.2M412.9 761h3.2" fill="none"/>
<circle cx="330.9" cy="741.3" r="2.3" stroke="none"/>
<circle cx="361" cy="798.4" r="2.3" stroke="none"/>
<circle cx="371.2" cy="775.8" r="2.3" stroke="none"/>
<circle cx="379.2" cy="768.2" r="2.3" stroke="none"/>
<circle cx="387" cy="766.9" r="2.3" stroke="none"/>
<circle cx="396.5" cy="765.5" r="2.3" stroke="none"/>
<circle cx="414.5" cy="732.6" r="2.3" stroke="none"/>
</g>
<path clip-path="url(#c12n)" d="M273.5 876.1 L276.17 875.87 L279.93 875.56 L284.32 875.19 L288.9 874.76 L293.2 874.3 L297.28 873.81 L301.45 873.29 L305.62 872.71 L309.7 872.09 L313.6 871.4 L317.32 870.68 L320.92 869.92 L324.39 869.1 L327.75 868.17 L331 867.1 L334.13 865.85 L337.15 864.46 L340.05 862.96 L342.83 861.4 L345.5 859.8 L348.05 858.15 L350.49 856.42 L352.81 854.65 L355.01 852.86 L357.1 851.1 L359.07 849.3 L360.93 847.44 L362.67 845.61 L364.29 843.9 L365.8 842.4 L367.17 841.11 L368.4 839.97 L369.52 838.99 L370.58 838.16 L371.6 837.5 L372.57 837 L373.47 836.67 L374.31 836.49 L375.15 836.47 L376 836.6 L376.84 836.88 L377.66 837.32 L378.48 837.91 L379.35 838.64 L380.3 839.5 L381.32 840.53 L382.37 841.73 L383.49 843.05 L384.72 844.46 L386.1 845.9 L387.62 847.41 L389.27 849.01 L391.03 850.67 L392.91 852.35 L394.9 854 L396.99 855.66 L399.2 857.36 L401.52 859.05 L403.95 860.68 L406.5 862.2 L409.17 863.62 L411.95 864.98 L414.85 866.25 L417.87 867.43 L421 868.5 L424.25 869.45 L427.61 870.29 L431.09 871.03 L434.69 871.7 L438.4 872.3 L442.37 872.84 L446.58 873.3 L450.85 873.69 L454.96 874.02 L458.7 874.3 L462.07 874.5 L465.2 874.63 L468.12 874.71 L470.81 874.78 L473.3 874.9 L475.65 875.08 L477.85 875.28 L479.8 875.49 L481.42 875.67 L482.6 875.8" stroke="#111" stroke-width="1.3" fill="none" stroke-linejoin="round"/>
<path clip-path="url(#c12r)" d="M273.5 926.23 L275.5 925.45 L277.5 925.65 L279.5 925.62 L281.5 924.86 L283.5 924.66 L285.5 924.64 L287.5 924.58 L289.5 924.28 L291.5 924.26 L293.5 924.6 L295.5 924.49 L297.5 924.36 L299.5 924.46 L301.5 924.42 L303.5 924.24 L305.5 923.94 L307.5 924.1 L309.5 923.3 L311.5 923.4 L313.5 922.98 L315.5 922.95 L317.5 922.66 L319.5 922.63 L321.5 922.35 L323.5 922.37 L325.5 921.95 L327.5 921.84 L329.5 921.71 L331.5 921.51 L333.5 921.1 L335.5 920.21 L337.5 919.8 L339.5 919.4 L341.5 918.77 L343.5 918.27 L345.5 917.22 L347.5 915.83 L349.5 913.76 L351.5 911.65 L353.5 909.42 L355.5 906.42 L357.5 904.18 L359.5 902.05 L361.5 900.17 L363.5 898.5 L365.5 896.11 L367.5 894.57 L369.5 893.2 L371.5 891.44 L373.5 889.76 L375.5 888.72 L377.5 888.1 L379.5 888.14 L381.5 889.27 L383.5 890.89 L385.5 892.91 L387.5 894.93 L389.5 897.24 L391.5 899.65 L393.5 901.76 L395.5 903.71 L397.5 905.77 L399.5 907.65 L401.5 909.68 L403.5 911.13 L405.5 912.44 L407.5 913.93 L409.5 914.46 L411.5 915.53 L413.5 916.59 L415.5 917.42 L417.5 918.16 L419.5 918.54 L421.5 919.15 L423.5 919.26 L425.5 919.27 L427.5 919.91 L429.5 920.61 L431.5 920.44 L433.5 920.57 L435.5 921.07 L437.5 921.37 L439.5 921.6 L441.5 921.75 L443.5 921.53 L445.5 921.88 L447.5 921.55 L449.5 921.7 L451.5 922.08 L453.5 921.78 L455.5 921.49 L457.5 921.71 L459.5 921.5 L461.5 921.78 L463.5 921.04 L465.5 921 L467.5 920.94 L469.5 920.75 L471.5 921.2 L473.5 921.48 L475.5 921.46 L477.5 922.38 L479.5 923.1 L481.5 923.59 L482.6 923.62" stroke="#111" stroke-width="1.3" fill="none" stroke-linejoin="round"/>
<path d="M273.7 651H482.7V931.8H273.7ZM273.7 828.35H482.7M273.7 880.15H482.7" stroke="#2a2a2a" stroke-width="1.3" fill="none"/>
<path d="M325.3 828.35v-3.4M325.3 651v3.4M378.5 828.35v-3.4M378.5 651v3.4M431.7 828.35v-3.4M431.7 651v3.4M285.4 828.35v-1.75M285.4 651v1.75M298.7 828.35v-1.75M298.7 651v1.75M312 828.35v-1.75M312 651v1.75M338.6 828.35v-1.75M338.6 651v1.75M351.9 828.35v-1.75M351.9 651v1.75M365.2 828.35v-1.75M365.2 651v1.75M391.8 828.35v-1.75M391.8 651v1.75M405.1 828.35v-1.75M405.1 651v1.75M418.4 828.35v-1.75M418.4 651v1.75M445 828.35v-1.75M445 651v1.75M458.3 828.35v-1.75M458.3 651v1.75M471.6 828.35v-1.75M471.6 651v1.75" stroke="#111" stroke-width="1" fill="none"/>
<path d="M325.3 880.15v-1M325.3 828.35v1M378.5 880.15v-1M378.5 828.35v1M431.7 880.15v-1M431.7 828.35v1" stroke="#111" stroke-width="1" fill="none"/>
<path d="M325.3 931.8v-1M325.3 880.15v1M378.5 931.8v-1M378.5 880.15v1M431.7 931.8v-1M431.7 880.15v1" stroke="#111" stroke-width="1" fill="none"/>
<path d="M273.7 817.4h4.1M482.7 817.4h-4.1M273.7 773.97h4.1M482.7 773.97h-4.1M273.7 730.53h4.1M482.7 730.53h-4.1M273.7 687.1h4.1M482.7 687.1h-4.1M273.7 826.09h2.05M482.7 826.09h-2.05M273.7 821.74h2.05M482.7 821.74h-2.05M273.7 813.06h2.05M482.7 813.06h-2.05M273.7 808.71h2.05M482.7 808.71h-2.05M273.7 804.37h2.05M482.7 804.37h-2.05M273.7 800.03h2.05M482.7 800.03h-2.05M273.7 795.68h2.05M482.7 795.68h-2.05M273.7 791.34h2.05M482.7 791.34h-2.05M273.7 787h2.05M482.7 787h-2.05M273.7 782.65h2.05M482.7 782.65h-2.05M273.7 778.31h2.05M482.7 778.31h-2.05M273.7 769.62h2.05M482.7 769.62h-2.05M273.7 765.28h2.05M482.7 765.28h-2.05M273.7 760.94h2.05M482.7 760.94h-2.05M273.7 756.59h2.05M482.7 756.59h-2.05M273.7 752.25h2.05M482.7 752.25h-2.05M273.7 747.91h2.05M482.7 747.91h-2.05M273.7 743.56h2.05M482.7 743.56h-2.05M273.7 739.22h2.05M482.7 739.22h-2.05M273.7 734.88h2.05M482.7 734.88h-2.05M273.7 726.19h2.05M482.7 726.19h-2.05M273.7 721.85h2.05M482.7 721.85h-2.05M273.7 717.5h2.05M482.7 717.5h-2.05M273.7 713.16h2.05M482.7 713.16h-2.05M273.7 708.82h2.05M482.7 708.82h-2.05M273.7 704.47h2.05M482.7 704.47h-2.05M273.7 700.13h2.05M482.7 700.13h-2.05M273.7 695.79h2.05M482.7 695.79h-2.05M273.7 691.44h2.05M482.7 691.44h-2.05M273.7 682.76h2.05M482.7 682.76h-2.05M273.7 678.41h2.05M482.7 678.41h-2.05M273.7 674.07h2.05M482.7 674.07h-2.05M273.7 669.73h2.05M482.7 669.73h-2.05M273.7 665.38h2.05M482.7 665.38h-2.05M273.7 661.04h2.05M482.7 661.04h-2.05M273.7 656.7h2.05M482.7 656.7h-2.05M273.7 652.35h2.05M482.7 652.35h-2.05" stroke="#111" stroke-width="1.15" fill="none"/>
<text transform="translate(270.3 821.3) scale(1 1.0)" text-anchor="end" font-size="11.6">10</text>
<text transform="translate(270.3 777.87) scale(1 1.0)" text-anchor="end" font-size="11.6">20</text>
<text transform="translate(270.3 734.44) scale(1 1.0)" text-anchor="end" font-size="11.6">30</text>
<text transform="translate(270.3 691) scale(1 1.0)" text-anchor="end" font-size="11.6">40</text>
<path d="M273.7 876.2h4.1M482.7 876.2h-4.1M273.7 865.3h4.1M482.7 865.3h-4.1M273.7 854.4h4.1M482.7 854.4h-4.1M273.7 843.5h4.1M482.7 843.5h-4.1M273.7 832.6h4.1M482.7 832.6h-4.1" stroke="#111" stroke-width="1.15" fill="none"/>
<text transform="translate(270.3 880.1) scale(1 1.0)" text-anchor="end" font-size="11.6">0</text>
<text transform="translate(270.3 869.2) scale(1 1.0)" text-anchor="end" font-size="11.6">2</text>
<text transform="translate(270.3 858.3) scale(1 1.0)" text-anchor="end" font-size="11.6">4</text>
<text transform="translate(270.3 847.4) scale(1 1.0)" text-anchor="end" font-size="11.6">6</text>
<text transform="translate(270.3 836.5) scale(1 1.0)" text-anchor="end" font-size="11.6">8</text>
<path d="M273.7 927.7h4.1M482.7 927.7h-4.1M273.7 914.87h4.1M482.7 914.87h-4.1M273.7 902.03h4.1M482.7 902.03h-4.1M273.7 889.2h4.1M482.7 889.2h-4.1" stroke="#111" stroke-width="1.15" fill="none"/>
<text transform="translate(270.3 931.6) scale(1 1.0)" text-anchor="end" font-size="11.6">0.0</text>
<text transform="translate(270.3 918.77) scale(1 1.0)" text-anchor="end" font-size="11.6">0.2</text>
<text transform="translate(270.3 905.94) scale(1 1.0)" text-anchor="end" font-size="11.6">0.4</text>
<text transform="translate(270.3 893.1) scale(1 1.0)" text-anchor="end" font-size="11.6">0.6</text>
<text transform="translate(325.1 945.8) scale(1 1.0)" text-anchor="middle" font-size="11.6" letter-spacing="-0.4">−2000</text>
<text transform="translate(378.3 945.8) scale(1 1.0)" text-anchor="middle" font-size="11.6" letter-spacing="-0.4">0</text>
<text transform="translate(431.5 945.8) scale(1 1.0)" text-anchor="middle" font-size="11.6" letter-spacing="-0.4">2000</text>
<text x="278.2" y="664.3" font-size="12.4" letter-spacing="0.35">RBS1303</text>
<text x="292" y="850.7" font-size="11.2">f<tspan font-size="7.6" dy="3.0">λ</tspan><tspan dy="-3.0"> (mean)</tspan></text>
<text x="292" y="902.1" font-size="11.2">f<tspan font-size="7.6" dy="3.0">λ</tspan><tspan dy="-3.0"> (rms)</tspan></text>
<clipPath id="c22m"><rect x="524.5" y="651" width="209" height="177.35"/></clipPath>
<clipPath id="c22n"><rect x="524.5" y="828.35" width="209" height="51.8"/></clipPath>
<clipPath id="c22r"><rect x="524.5" y="880.15" width="209" height="51.65"/></clipPath>
<rect x="524.5" y="770" width="209" height="38.5" fill="#cbdeee"/>
<line x1="524.5" x2="733.5" y1="794.1" y2="794.1" stroke="#111" stroke-width="1.4" stroke-dasharray="3 1.8"/>
<g clip-path="url(#c22m)" stroke="#151515" stroke-width="1.1" fill="#000">
<path d="M557.1 813.2H611.3M584.1 787V840M557.1 811.6v3.2M611.3 811.6v3.2M582.5 787h3.2M582.5 840h3.2M610.9 764.6H620.8M615.8 678.4V787M610.9 763v3.2M620.8 763v3.2M614.2 678.4h3.2M614.2 787h3.2M619.9 776.4H628M624 740.2V788.4M619.9 774.8v3.2M628 774.8v3.2M622.4 740.2h3.2M622.4 788.4h3.2M627.6 789.4H634.8M631.2 763.7V801.4M627.6 787.8v3.2M634.8 787.8v3.2M629.6 763.7h3.2M629.6 801.4h3.2M634.3 796.6H642.4M637.9 781.8V808.2M634.3 795v3.2M642.4 795v3.2M636.3 781.8h3.2M636.3 808.2h3.2M641.5 796.6H652.3M646.5 778.6V809.1M641.5 795v3.2M652.3 795v3.2M644.9 778.6h3.2M644.9 809.1h3.2M651.4 684.6H673.5M662.2 668.1V822.3M651.4 683v3.2M673.5 683v3.2M660.6 668.1h3.2M660.6 822.3h3.2M673.5 683.7H701.7M687.3 674.9V692M673.5 682.1v3.2M701.7 682.1v3.2M685.7 674.9h3.2M685.7 692h3.2" fill="none"/>
<circle cx="584.1" cy="813.2" r="2.3" stroke="none"/>
<circle cx="615.8" cy="764.6" r="2.3" stroke="none"/>
<circle cx="624" cy="776.4" r="2.3" stroke="none"/>
<circle cx="631.2" cy="789.4" r="2.3" stroke="none"/>
<circle cx="637.9" cy="796.6" r="2.3" stroke="none"/>
<circle cx="646.5" cy="796.6" r="2.3" stroke="none"/>
<circle cx="662.2" cy="684.6" r="2.3" stroke="none"/>
<circle cx="687.3" cy="683.7" r="2.3" stroke="none"/>
</g>
<path clip-path="url(#c22n)" d="M523.5 876.4 L526.17 876.41 L529.93 876.43 L534.32 876.44 L538.9 876.44 L543.2 876.4 L547.33 876.33 L551.59 876.25 L555.83 876.13 L559.89 875.99 L563.6 875.8 L566.92 875.58 L569.96 875.33 L572.79 875.04 L575.48 874.7 L578.1 874.3 L580.58 873.85 L582.88 873.35 L585.09 872.79 L587.33 872.15 L589.7 871.4 L592.29 870.56 L595.04 869.65 L597.8 868.64 L600.44 867.5 L602.8 866.2 L604.82 864.66 L606.6 862.89 L608.23 861.03 L609.83 859.19 L611.5 857.5 L613.29 855.96 L615.12 854.49 L616.93 853.09 L618.65 851.76 L620.2 850.5 L621.59 849.38 L622.87 848.39 L624.03 847.44 L625.07 846.44 L626 845.3 L626.79 843.91 L627.44 842.32 L627.99 840.71 L628.46 839.25 L628.9 838.1 L629.26 837.19 L629.52 836.41 L629.74 835.88 L629.98 835.7 L630.3 836 L630.7 836.96 L631.14 838.5 L631.62 840.35 L632.14 842.24 L632.7 843.9 L633.23 845.3 L633.73 846.61 L634.3 847.89 L635.06 849.18 L636.1 850.5 L637.47 851.86 L639.1 853.22 L640.92 854.6 L642.87 856.02 L644.9 857.5 L647.06 859.09 L649.41 860.77 L651.83 862.47 L654.23 864.11 L656.5 865.6 L658.68 866.97 L660.85 868.26 L662.94 869.46 L664.88 870.51 L666.6 871.4 L667.96 872.07 L669.02 872.54 L669.97 872.89 L671.03 873.18 L672.4 873.5 L674.2 873.85 L676.3 874.19 L678.51 874.5 L680.67 874.74 L682.6 874.9 L684.33 874.96 L685.98 874.93 L687.51 874.84 L688.86 874.72 L690 874.6 L690.87 874.43 L691.5 874.18 L691.98 873.94 L692.38 873.78 L692.8 873.8 L693.21 874.11 L693.57 874.65 L693.89 875.24 L694.19 875.72 L694.5 875.9 L694.81 875.63 L695.11 875.03 L695.41 874.32 L695.7 873.74 L696 873.5 L696.19 873.72 L696.27 874.25 L696.41 874.92 L696.76 875.56 L697.5 876 L698.41 876.22 L699.39 876.33 L700.75 876.37 L702.78 876.38 L705.8 876.4 L710.56 876.43 L716.85 876.43 L723.55 876.42 L729.51 876.41 L733.6 876.4" stroke="#111" stroke-width="1.3" fill="none" stroke-linejoin="round"/>
<path clip-path="url(#c22r)" d="M523.5 922.65 L524.1 923.57 L524.7 923.29 L525.3 923.62 L525.9 922.93 L526.5 923.51 L527.1 922.94 L527.7 923.16 L528.3 923.31 L528.9 923.33 L529.5 923.27 L530.1 922.56 L530.7 922.65 L531.3 923.2 L531.9 923.66 L532.5 923.71 L533.1 923.45 L533.7 923.84 L534.3 923.05 L534.9 923.33 L535.5 924.13 L536.1 924.24 L536.7 923.98 L537.3 923.08 L537.9 924.42 L538.5 923.82 L539.1 923.37 L539.7 923.75 L540.3 924.24 L540.9 924.05 L541.5 924.11 L542.1 924.95 L542.7 925.01 L543.3 925.63 L543.9 925.68 L544.5 924.49 L545.1 924.75 L545.7 925.61 L546.3 925.81 L546.9 924.9 L547.5 925.77 L548.1 926.1 L548.7 925.16 L549.3 925.99 L549.9 925.64 L550.5 925.05 L551.1 925.37 L551.7 925.02 L552.3 925.6 L552.9 924.44 L553.5 925.48 L554.1 924.67 L554.7 925.14 L555.3 924 L555.9 924.76 L556.5 924.12 L557.1 923.84 L557.7 923.32 L558.3 923.27 L558.9 923.54 L559.5 923.05 L560.1 923.92 L560.7 923.45 L561.3 922.26 L561.9 922.25 L562.5 922.5 L563.1 922.68 L563.7 922.62 L564.3 921.46 L564.9 922.52 L565.5 921.5 L566.1 920.95 L566.7 921.31 L567.3 921.57 L567.9 920.25 L568.5 921.02 L569.1 920.8 L569.7 920.35 L570.3 920.58 L570.9 919.66 L571.5 919.28 L572.1 919.17 L572.7 920.32 L573.3 918.92 L573.9 919.99 L574.5 919.42 L575.1 918.92 L575.7 918.15 L576.3 919.22 L576.9 918.99 L577.5 918.38 L578.1 917.97 L578.7 917.12 L579.3 917.17 L579.9 917.32 L580.5 917.05 L581.1 917.47 L581.7 915.84 L582.3 917.05 L582.9 915.58 L583.5 915.45 L584.1 916.2 L584.7 914.83 L585.3 914.43 L585.9 914.17 L586.5 913.98 L587.1 914.05 L587.7 913.99 L588.3 914.14 L588.9 914.19 L589.5 912.64 L590.1 913.11 L590.7 912.1 L591.3 913.05 L591.9 912.77 L592.5 912.32 L593.1 911.83 L593.7 912.36 L594.3 911.76 L594.9 911.67 L595.5 910.84 L596.1 910.75 L596.7 909.91 L597.3 909.67 L597.9 909.5 L598.5 910.15 L599.1 908.92 L599.7 909.19 L600.3 909.69 L600.9 908.53 L601.5 908.76 L602.1 908.16 L602.7 908.96 L603.3 908.19 L603.9 907.16 L604.5 908.29 L605.1 907.54 L605.7 906.91 L606.3 905.98 L606.9 906.72 L607.5 906.04 L608.1 906.4 L608.7 905.08 L609.3 905.62 L609.9 904.81 L610.5 904.46 L611.1 903.8 L611.7 902.59 L612.3 902.48 L612.9 902.24 L613.5 901.07 L614.1 900.74 L614.7 900.25 L615.3 900.05 L615.9 900.25 L616.5 898.92 L617.1 899.52 L617.7 898.29 L618.3 897.42 L618.9 897.4 L619.5 896.3 L620.1 896.95 L620.7 895.32 L621.3 895.36 L621.9 894.45 L622.5 894.69 L623.1 893.64 L623.7 893.69 L624.3 893.81 L624.9 893.42 L625.5 892.68 L626.1 891.76 L626.7 890.32 L627.3 889.62 L627.9 887.75 L628.5 888.12 L629.1 887.95 L629.7 888.85 L630.3 889.57 L630.9 889.47 L631.5 889.39 L632.1 890.75 L632.7 891.3 L633.3 891.52 L633.9 891.5 L634.5 891.56 L635.1 892.52 L635.7 892.13 L636.3 892.35 L636.9 892.85 L637.5 893.05 L638.1 893.46 L638.7 894.2 L639.3 895.58 L639.9 895.57 L640.5 896.08 L641.1 895.78 L641.7 896.9 L642.3 896.71 L642.9 898.01 L643.5 898.47 L644.1 898.82 L644.7 899.7 L645.3 900.23 L645.9 900.56 L646.5 901.19 L647.1 901.56 L647.7 901.47 L648.3 902.67 L648.9 903.07 L649.5 902.95 L650.1 903.8 L650.7 904.95 L651.3 903.91 L651.9 904.42 L652.5 905.5 L653.1 905.64 L653.7 907.3 L654.3 907.78 L654.9 907.24 L655.5 907.69 L656.1 908.35 L656.7 909.04 L657.3 909.23 L657.9 909.36 L658.5 909.87 L659.1 911.05 L659.7 911.68 L660.3 911.31 L660.9 912.41 L661.5 912.96 L662.1 914.1 L662.7 913.51 L663.3 913.53 L663.9 915.02 L664.5 914.56 L665.1 916.38 L665.7 916.21 L666.3 916.26 L666.9 916.71 L667.5 917.25 L668.1 917.48 L668.7 919.13 L669.3 917.91 L669.9 918.09 L670.5 918.74 L671.1 917.67 L671.7 915.39 L672.3 914.21 L672.9 911.45 L673.5 911.74 L674.1 912.55 L674.7 915.76 L675.3 916.76 L675.9 917.08 L676.5 917.57 L677.1 919.09 L677.7 919.14 L678.3 920.32 L678.9 920.57 L679.5 919.93 L680.1 921.37 L680.7 920.39 L681.3 921.08 L681.9 921.26 L682.5 922.26 L683.1 921.08 L683.7 922.23 L684.3 921.56 L684.9 921.09 L685.5 921.14 L686.1 921.4 L686.7 921.27 L687.3 921.73 L687.9 921.05 L688.5 922.01 L689.1 920.82 L689.7 920.68 L690.3 921.03 L690.9 920.86 L691.5 920.02 L692.1 918.84 L692.7 917.13 L693.3 914.93 L693.9 911.94 L694.5 905.15 L695.1 901.86 L695.7 904.82 L696.3 906 L696.9 905.29 L697.5 905.97 L698.1 909.59 L698.7 912.83 L699.3 915.84 L699.9 920.67 L700.5 922.15 L701.1 924.12 L701.7 923.83 L702.3 923.79 L702.9 924.02 L703.5 924.7 L704.1 924.83 L704.7 924.57 L705.3 924.56 L705.9 924.64 L706.5 923.95 L707.1 924.01 L707.7 924.97 L708.3 923.64 L708.9 924.1 L709.5 923.79 L710.1 924.43 L710.7 924.62 L711.3 923.93 L711.9 924 L712.5 924.15 L713.1 924.66 L713.7 925.34 L714.3 924.93 L714.9 925.51 L715.5 924.22 L716.1 924.21 L716.7 925 L717.3 924.3 L717.9 925.47 L718.5 924.23 L719.1 924.46 L719.7 925.16 L720.3 924.34 L720.9 924.76 L721.5 924.79 L722.1 924.68 L722.7 924.38 L723.3 925.06 L723.9 925.09 L724.5 924.1 L725.1 923.76 L725.7 923.37 L726.3 923.64 L726.9 924.68 L727.5 924.31 L728.1 924.71 L728.7 924.44 L729.3 924.54 L729.9 924.07 L730.5 924.17 L731.1 924.43 L731.7 923.33 L732.3 923.81 L732.9 923.16 L733.5 923.26 L733.6 924.37" stroke="#111" stroke-width="1.3" fill="none" stroke-linejoin="round"/>
<path d="M524.5 651H733.5V931.8H524.5ZM524.5 828.35H733.5M524.5 880.15H733.5" stroke="#2a2a2a" stroke-width="1.3" fill="none"/>
<path d="M556.4 828.35v-3.4M556.4 651v3.4M593.2 828.35v-3.4M593.2 651v3.4M630 828.35v-3.4M630 651v3.4M666.8 828.35v-3.4M666.8 651v3.4M703.6 828.35v-3.4M703.6 651v3.4M526.96 828.35v-1.75M526.96 651v1.75M534.32 828.35v-1.75M534.32 651v1.75M541.68 828.35v-1.75M541.68 651v1.75M549.04 828.35v-1.75M549.04 651v1.75M563.76 828.35v-1.75M563.76 651v1.75M571.12 828.35v-1.75M571.12 651v1.75M578.48 828.35v-1.75M578.48 651v1.75M585.84 828.35v-1.75M585.84 651v1.75M600.56 828.35v-1.75M600.56 651v1.75M607.92 828.35v-1.75M607.92 651v1.75M615.28 828.35v-1.75M615.28 651v1.75M622.64 828.35v-1.75M622.64 651v1.75M637.36 828.35v-1.75M637.36 651v1.75M644.72 828.35v-1.75M644.72 651v1.75M652.08 828.35v-1.75M652.08 651v1.75M659.44 828.35v-1.75M659.44 651v1.75M674.16 828.35v-1.75M674.16 651v1.75M681.52 828.35v-1.75M681.52 651v1.75M688.88 828.35v-1.75M688.88 651v1.75M696.24 828.35v-1.75M696.24 651v1.75M710.96 828.35v-1.75M710.96 651v1.75M718.32 828.35v-1.75M718.32 651v1.75M725.68 828.35v-1.75M725.68 651v1.75M733.04 828.35v-1.75M733.04 651v1.75" stroke="#111" stroke-width="1" fill="none"/>
<path d="M556.4 880.15v-1M556.4 828.35v1M593.2 880.15v-1M593.2 828.35v1M630 880.15v-1M630 828.35v1M666.8 880.15v-1M666.8 828.35v1M703.6 880.15v-1M703.6 828.35v1" stroke="#111" stroke-width="1" fill="none"/>
<path d="M556.4 931.8v-1M556.4 880.15v1M593.2 931.8v-1M593.2 880.15v1M630 931.8v-1M630 880.15v1M666.8 931.8v-1M666.8 880.15v1M703.6 931.8v-1M703.6 880.15v1" stroke="#111" stroke-width="1" fill="none"/>
<path d="M524.5 801.6h4.1M733.5 801.6h-4.1M524.5 765.38h4.1M733.5 765.38h-4.1M524.5 729.15h4.1M733.5 729.15h-4.1M524.5 692.93h4.1M733.5 692.93h-4.1M524.5 656.7h4.1M733.5 656.7h-4.1M524.5 826.96h2.05M733.5 826.96h-2.05M524.5 823.34h2.05M733.5 823.34h-2.05M524.5 819.71h2.05M733.5 819.71h-2.05M524.5 816.09h2.05M733.5 816.09h-2.05M524.5 812.47h2.05M733.5 812.47h-2.05M524.5 808.85h2.05M733.5 808.85h-2.05M524.5 805.22h2.05M733.5 805.22h-2.05M524.5 797.98h2.05M733.5 797.98h-2.05M524.5 794.36h2.05M733.5 794.36h-2.05M524.5 790.73h2.05M733.5 790.73h-2.05M524.5 787.11h2.05M733.5 787.11h-2.05M524.5 783.49h2.05M733.5 783.49h-2.05M524.5 779.87h2.05M733.5 779.87h-2.05M524.5 776.24h2.05M733.5 776.24h-2.05M524.5 772.62h2.05M733.5 772.62h-2.05M524.5 769h2.05M733.5 769h-2.05M524.5 761.75h2.05M733.5 761.75h-2.05M524.5 758.13h2.05M733.5 758.13h-2.05M524.5 754.51h2.05M733.5 754.51h-2.05M524.5 750.88h2.05M733.5 750.88h-2.05M524.5 747.26h2.05M733.5 747.26h-2.05M524.5 743.64h2.05M733.5 743.64h-2.05M524.5 740.02h2.05M733.5 740.02h-2.05M524.5 736.39h2.05M733.5 736.39h-2.05M524.5 732.77h2.05M733.5 732.77h-2.05M524.5 725.53h2.05M733.5 725.53h-2.05M524.5 721.91h2.05M733.5 721.91h-2.05M524.5 718.28h2.05M733.5 718.28h-2.05M524.5 714.66h2.05M733.5 714.66h-2.05M524.5 711.04h2.05M733.5 711.04h-2.05M524.5 707.42h2.05M733.5 707.42h-2.05M524.5 703.79h2.05M733.5 703.79h-2.05M524.5 700.17h2.05M733.5 700.17h-2.05M524.5 696.55h2.05M733.5 696.55h-2.05M524.5 689.3h2.05M733.5 689.3h-2.05M524.5 685.68h2.05M733.5 685.68h-2.05M524.5 682.06h2.05M733.5 682.06h-2.05M524.5 678.44h2.05M733.5 678.44h-2.05M524.5 674.81h2.05M733.5 674.81h-2.05M524.5 671.19h2.05M733.5 671.19h-2.05M524.5 667.57h2.05M733.5 667.57h-2.05M524.5 663.95h2.05M733.5 663.95h-2.05M524.5 660.32h2.05M733.5 660.32h-2.05M524.5 653.08h2.05M733.5 653.08h-2.05" stroke="#111" stroke-width="1.15" fill="none"/>
<text transform="translate(521.1 805.5) scale(1 1.0)" text-anchor="end" font-size="11.6">10</text>
<text transform="translate(521.1 769.28) scale(1 1.0)" text-anchor="end" font-size="11.6">20</text>
<text transform="translate(521.1 733.05) scale(1 1.0)" text-anchor="end" font-size="11.6">30</text>
<text transform="translate(521.1 696.83) scale(1 1.0)" text-anchor="end" font-size="11.6">40</text>
<text transform="translate(521.1 660.6) scale(1 1.0)" text-anchor="end" font-size="11.6">50</text>
<path d="M524.5 876.2h4.1M733.5 876.2h-4.1M524.5 862.23h4.1M733.5 862.23h-4.1M524.5 848.27h4.1M733.5 848.27h-4.1M524.5 834.3h4.1M733.5 834.3h-4.1" stroke="#111" stroke-width="1.15" fill="none"/>
<text transform="translate(521.1 880.1) scale(1 1.0)" text-anchor="end" font-size="11.6">0</text>
<text transform="translate(521.1 866.14) scale(1 1.0)" text-anchor="end" font-size="11.6">3</text>
<text transform="translate(521.1 852.17) scale(1 1.0)" text-anchor="end" font-size="11.6">6</text>
<text transform="translate(521.1 838.2) scale(1 1.0)" text-anchor="end" font-size="11.6">9</text>
<path d="M524.5 927.6h4.1M733.5 927.6h-4.1M524.5 918.52h4.1M733.5 918.52h-4.1M524.5 909.45h4.1M733.5 909.45h-4.1M524.5 900.38h4.1M733.5 900.38h-4.1M524.5 891.3h4.1M733.5 891.3h-4.1M524.5 882.22h4.1M733.5 882.22h-4.1" stroke="#111" stroke-width="1.15" fill="none"/>
<text transform="translate(521.1 931.5) scale(1 1.0)" text-anchor="end" font-size="11.6">0.0</text>
<text transform="translate(521.1 922.43) scale(1 1.0)" text-anchor="end" font-size="11.6">0.1</text>
<text transform="translate(521.1 913.35) scale(1 1.0)" text-anchor="end" font-size="11.6">0.2</text>
<text transform="translate(521.1 904.28) scale(1 1.0)" text-anchor="end" font-size="11.6">0.3</text>
<text transform="translate(521.1 895.2) scale(1 1.0)" text-anchor="end" font-size="11.6">0.4</text>
<text transform="translate(521.1 887.1) scale(1 1.0)" text-anchor="end" font-size="11.6">0.5</text>
<text transform="translate(556.2 945.8) scale(1 1.0)" text-anchor="middle" font-size="11.6" letter-spacing="-0.4">−10000</text>
<text transform="translate(593 945.8) scale(1 1.0)" text-anchor="middle" font-size="11.6" letter-spacing="-0.4">−5000</text>
<text transform="translate(629.8 945.8) scale(1 1.0)" text-anchor="middle" font-size="11.6" letter-spacing="-0.4">0</text>
<text transform="translate(666.6 945.8) scale(1 1.0)" text-anchor="middle" font-size="11.6" letter-spacing="-0.4">5000</text>
<text transform="translate(703.4 945.8) scale(1 1.0)" text-anchor="middle" font-size="11.6" letter-spacing="-0.4">10000</text>
<text x="528.2" y="666.7" font-size="12.4" letter-spacing="0.35">Mrk841</text>
<text x="542.5" y="850.7" font-size="11.2">f<tspan font-size="7.6" dy="3.0">λ</tspan><tspan dy="-3.0"> (mean)</tspan></text>
<text x="542.5" y="902.1" font-size="11.2">f<tspan font-size="7.6" dy="3.0">λ</tspan><tspan dy="-3.0"> (rms)</tspan></text>
</svg>
</body></html>
